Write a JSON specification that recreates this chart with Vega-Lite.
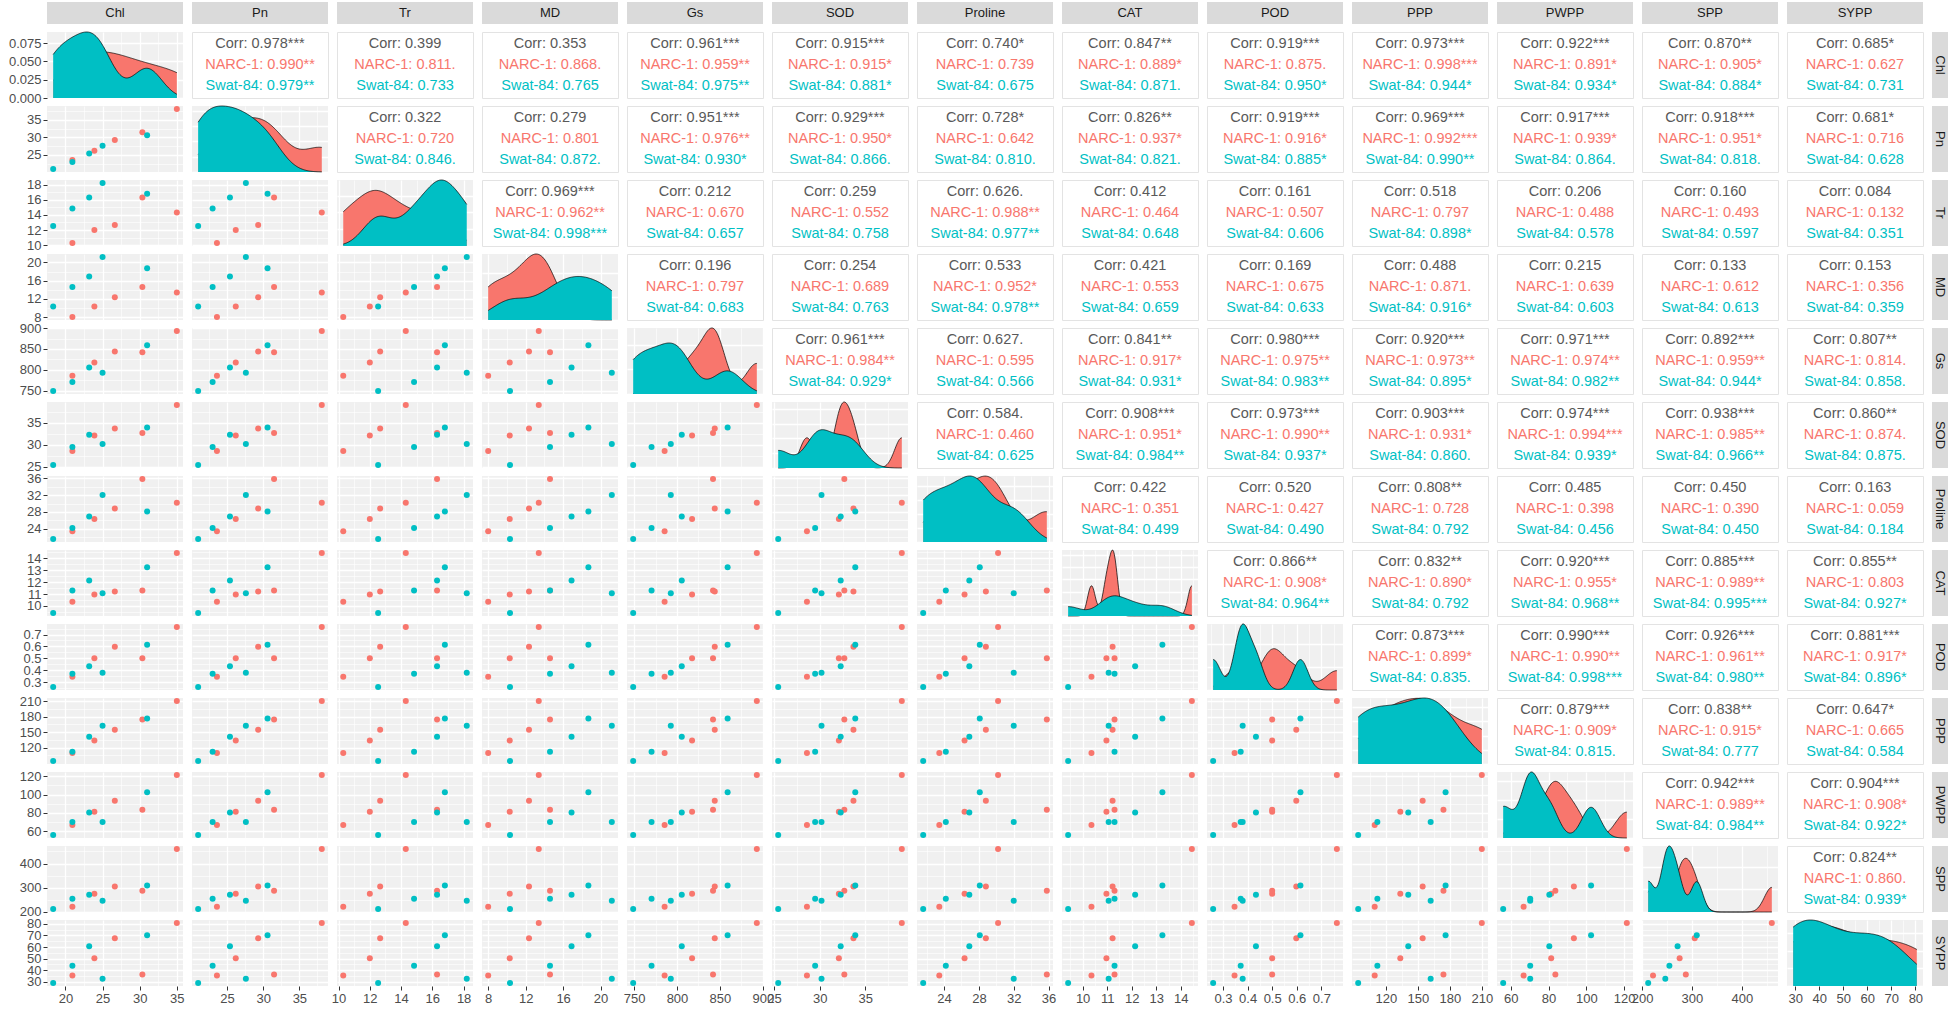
{"$schema":"https://vega.github.io/schema/vega-lite/v6.json",
"padding":{"left":8,"top":2,"right":0,"bottom":0},
"background":"white",
"data":{"values":[
{"g":"NARC-1","Chl":20.94,"Pn":23.6,"Tr":10.3,"MD":8.0,"Gs":785.6,"SOD":28.6,"Proline":23.45,"CAT":10.36,"POD":0.347,"PPP":109.5,"PWPP":66.8,"SPP":222,"SYPP":35.5},
{"g":"NARC-1","Chl":23.9,"Pn":26.2,"Tr":12.0,"MD":10.3,"Gs":817.6,"SOD":32.1,"Proline":26.35,"CAT":10.97,"POD":0.5,"PPP":133.5,"PWPP":81.4,"SPP":275.3,"SYPP":50.3},
{"g":"NARC-1","Chl":26.65,"Pn":29.3,"Tr":12.66,"MD":12.36,"Gs":844,"SOD":33.7,"Proline":28.8,"CAT":11.22,"POD":0.598,"PPP":154.5,"PWPP":93.4,"SPP":305.5,"SYPP":67.6},
{"g":"NARC-1","Chl":30.36,"Pn":31.5,"Tr":16.3,"MD":14.6,"Gs":842,"SOD":32.7,"Proline":35.8,"CAT":11.3,"POD":0.5,"PPP":174,"PWPP":83.6,"SPP":287.7,"SYPP":36.4},
{"g":"NARC-1","Chl":35.0,"Pn":38.1,"Tr":14.3,"MD":13.4,"Gs":893,"SOD":39.0,"Proline":30.2,"CAT":14.45,"POD":0.763,"PPP":210,"PWPP":121.4,"SPP":460,"SYPP":80.6},
{"g":"Swat-84","Chl":18.35,"Pn":21.0,"Tr":12.53,"MD":10.33,"Gs":749,"SOD":25.45,"Proline":21.6,"CAT":9.41,"POD":0.26,"PPP":94,"PWPP":56,"SPP":212.3,"SYPP":29.1},
{"g":"Swat-84","Chl":20.94,"Pn":23.0,"Tr":14.83,"MD":14.6,"Gs":770.4,"SOD":29.5,"Proline":24.2,"CAT":11.3,"POD":0.372,"PPP":112,"PWPP":70.3,"SPP":254.8,"SYPP":44.0},
{"g":"Swat-84","Chl":23.2,"Pn":25.4,"Tr":16.3,"MD":16.9,"Gs":805.6,"SOD":32.3,"Proline":26.9,"CAT":12.14,"POD":0.434,"PPP":141,"PWPP":80.4,"SPP":271.2,"SYPP":60.6},
{"g":"Swat-84","Chl":25.0,"Pn":27.6,"Tr":18.2,"MD":21.2,"Gs":792.8,"SOD":30.2,"Proline":32.0,"CAT":11.06,"POD":0.38,"PPP":162,"PWPP":70.3,"SPP":246.6,"SYPP":32.8},
{"g":"Swat-84","Chl":31.0,"Pn":30.6,"Tr":16.8,"MD":18.7,"Gs":859,"SOD":33.9,"Proline":28.1,"CAT":13.25,"POD":0.615,"PPP":176,"PWPP":102.5,"SPP":309.6,"SYPP":70.1}
]},
"columns":14,
"spacing":{"row":8,"column":9},
"bounds":"flush",
"align":"each",
"config":{
"font":"Liberation Sans",
"view":{"continuousWidth":136,"continuousHeight":66,"discreteWidth":136,"discreteHeight":66,"fill":"#F0F0F0","stroke":null},
"axis":{"labels":false,"ticks":false,"domain":false,"gridColor":"#FFFFFF","gridWidth":1.3,"labelFontSize":13,"labelColor":"#4D4D4D","tickColor":"#333333","tickSize":4,"labelPadding":2,"labelOverlap":false,"labelFlush":false},
"legend":{"disable":true},
"range":{"category":["#595959","#F8766D","#00BFC4"]},
"scale":{"pointPadding":0.57},
"circle":{"size":36,"opacity":1},
"text":{"fontSize":14.5,"color":"#1A1A1A"},
"line":{"color":"#000000","strokeWidth":0.7}
},
"concat":[
{"data":{"values":[{"v":"Chl"}]},"mark":{"type":"text","fontSize":13},"encoding":{"text":{"field":"v"}},"height":22,"view":{"fill":"#DADADA"}},
{"data":{"values":[{"v":"Pn"}]},"mark":{"type":"text","fontSize":13},"encoding":{"text":{"field":"v"}},"height":22,"view":{"fill":"#DADADA"}},
{"data":{"values":[{"v":"Tr"}]},"mark":{"type":"text","fontSize":13},"encoding":{"text":{"field":"v"}},"height":22,"view":{"fill":"#DADADA"}},
{"data":{"values":[{"v":"MD"}]},"mark":{"type":"text","fontSize":13},"encoding":{"text":{"field":"v"}},"height":22,"view":{"fill":"#DADADA"}},
{"data":{"values":[{"v":"Gs"}]},"mark":{"type":"text","fontSize":13},"encoding":{"text":{"field":"v"}},"height":22,"view":{"fill":"#DADADA"}},
{"data":{"values":[{"v":"SOD"}]},"mark":{"type":"text","fontSize":13},"encoding":{"text":{"field":"v"}},"height":22,"view":{"fill":"#DADADA"}},
{"data":{"values":[{"v":"Proline"}]},"mark":{"type":"text","fontSize":13},"encoding":{"text":{"field":"v"}},"height":22,"view":{"fill":"#DADADA"}},
{"data":{"values":[{"v":"CAT"}]},"mark":{"type":"text","fontSize":13},"encoding":{"text":{"field":"v"}},"height":22,"view":{"fill":"#DADADA"}},
{"data":{"values":[{"v":"POD"}]},"mark":{"type":"text","fontSize":13},"encoding":{"text":{"field":"v"}},"height":22,"view":{"fill":"#DADADA"}},
{"data":{"values":[{"v":"PPP"}]},"mark":{"type":"text","fontSize":13},"encoding":{"text":{"field":"v"}},"height":22,"view":{"fill":"#DADADA"}},
{"data":{"values":[{"v":"PWPP"}]},"mark":{"type":"text","fontSize":13},"encoding":{"text":{"field":"v"}},"height":22,"view":{"fill":"#DADADA"}},
{"data":{"values":[{"v":"SPP"}]},"mark":{"type":"text","fontSize":13},"encoding":{"text":{"field":"v"}},"height":22,"view":{"fill":"#DADADA"}},
{"data":{"values":[{"v":"SYPP"}]},"mark":{"type":"text","fontSize":13},"encoding":{"text":{"field":"v"}},"height":22,"view":{"fill":"#DADADA"}},
{"data":{"values":[{"v":""}]},"mark":"text","encoding":{"text":{"field":"v"}},"width":16,"height":22,"view":{"fill":"white"}},

{"layer":[{"transform":[{"filter":"datum.g=='NARC-1'"},{"density":"Chl","bandwidth":3.15,"extent":[18.35,35],"groupby":["g"],"steps":150}],"layer":[{"mark":"area","encoding":{"color":{"field":"g"}}},{"mark":"line"}]},{"transform":[{"filter":"datum.g=='Swat-84'"},{"density":"Chl","bandwidth":1.98,"extent":[18.35,35],"groupby":["g"],"steps":150}],"layer":[{"mark":"area","encoding":{"color":{"field":"g"}}},{"mark":"line"}]}],"encoding":{"x":{"field":"value","type":"quantitative","title":null,"scale":{"domain":[17.52,35.83]},"axis":{"values":[20,22.5,25,27.5,30,32.5,35],"gridWidth":{"condition":{"test":"datum.value%5==0","value":1.3},"value":0.6}}},"y":{"field":"density","type":"quantitative","title":null,"stack":null,"scale":{"nice":false},"axis":{"values":[0,0.025,0.05,0.075],"format":".3f","labels":true,"ticks":true}}}},
{"data":{"values":[{"g":"Corr","t":"Corr: 0.978***"},{"g":"NARC-1","t":"NARC-1: 0.990**"},{"g":"Swat-84","t":"Swat-84: 0.979**"}]},"mark":"text","encoding":{"y":{"field":"g","axis":null},"text":{"field":"t"},"color":{"field":"g"}},"view":{"fill":"white","stroke":"#E3E3E3"}},
{"data":{"values":[{"g":"Corr","t":"Corr: 0.399"},{"g":"NARC-1","t":"NARC-1: 0.811."},{"g":"Swat-84","t":"Swat-84: 0.733"}]},"mark":"text","encoding":{"y":{"field":"g","axis":null},"text":{"field":"t"},"color":{"field":"g"}},"view":{"fill":"white","stroke":"#E3E3E3"}},
{"data":{"values":[{"g":"Corr","t":"Corr: 0.353"},{"g":"NARC-1","t":"NARC-1: 0.868."},{"g":"Swat-84","t":"Swat-84: 0.765"}]},"mark":"text","encoding":{"y":{"field":"g","axis":null},"text":{"field":"t"},"color":{"field":"g"}},"view":{"fill":"white","stroke":"#E3E3E3"}},
{"data":{"values":[{"g":"Corr","t":"Corr: 0.961***"},{"g":"NARC-1","t":"NARC-1: 0.959**"},{"g":"Swat-84","t":"Swat-84: 0.975**"}]},"mark":"text","encoding":{"y":{"field":"g","axis":null},"text":{"field":"t"},"color":{"field":"g"}},"view":{"fill":"white","stroke":"#E3E3E3"}},
{"data":{"values":[{"g":"Corr","t":"Corr: 0.915***"},{"g":"NARC-1","t":"NARC-1: 0.915*"},{"g":"Swat-84","t":"Swat-84: 0.881*"}]},"mark":"text","encoding":{"y":{"field":"g","axis":null},"text":{"field":"t"},"color":{"field":"g"}},"view":{"fill":"white","stroke":"#E3E3E3"}},
{"data":{"values":[{"g":"Corr","t":"Corr: 0.740*"},{"g":"NARC-1","t":"NARC-1: 0.739"},{"g":"Swat-84","t":"Swat-84: 0.675"}]},"mark":"text","encoding":{"y":{"field":"g","axis":null},"text":{"field":"t"},"color":{"field":"g"}},"view":{"fill":"white","stroke":"#E3E3E3"}},
{"data":{"values":[{"g":"Corr","t":"Corr: 0.847**"},{"g":"NARC-1","t":"NARC-1: 0.889*"},{"g":"Swat-84","t":"Swat-84: 0.871."}]},"mark":"text","encoding":{"y":{"field":"g","axis":null},"text":{"field":"t"},"color":{"field":"g"}},"view":{"fill":"white","stroke":"#E3E3E3"}},
{"data":{"values":[{"g":"Corr","t":"Corr: 0.919***"},{"g":"NARC-1","t":"NARC-1: 0.875."},{"g":"Swat-84","t":"Swat-84: 0.950*"}]},"mark":"text","encoding":{"y":{"field":"g","axis":null},"text":{"field":"t"},"color":{"field":"g"}},"view":{"fill":"white","stroke":"#E3E3E3"}},
{"data":{"values":[{"g":"Corr","t":"Corr: 0.973***"},{"g":"NARC-1","t":"NARC-1: 0.998***"},{"g":"Swat-84","t":"Swat-84: 0.944*"}]},"mark":"text","encoding":{"y":{"field":"g","axis":null},"text":{"field":"t"},"color":{"field":"g"}},"view":{"fill":"white","stroke":"#E3E3E3"}},
{"data":{"values":[{"g":"Corr","t":"Corr: 0.922***"},{"g":"NARC-1","t":"NARC-1: 0.891*"},{"g":"Swat-84","t":"Swat-84: 0.934*"}]},"mark":"text","encoding":{"y":{"field":"g","axis":null},"text":{"field":"t"},"color":{"field":"g"}},"view":{"fill":"white","stroke":"#E3E3E3"}},
{"data":{"values":[{"g":"Corr","t":"Corr: 0.870**"},{"g":"NARC-1","t":"NARC-1: 0.905*"},{"g":"Swat-84","t":"Swat-84: 0.884*"}]},"mark":"text","encoding":{"y":{"field":"g","axis":null},"text":{"field":"t"},"color":{"field":"g"}},"view":{"fill":"white","stroke":"#E3E3E3"}},
{"data":{"values":[{"g":"Corr","t":"Corr: 0.685*"},{"g":"NARC-1","t":"NARC-1: 0.627"},{"g":"Swat-84","t":"Swat-84: 0.731"}]},"mark":"text","encoding":{"y":{"field":"g","axis":null},"text":{"field":"t"},"color":{"field":"g"}},"view":{"fill":"white","stroke":"#E3E3E3"}},
{"data":{"values":[{"v":"Chl"}]},"mark":{"type":"text","fontSize":13,"angle":90},"encoding":{"text":{"field":"v"}},"width":16,"view":{"fill":"#DADADA"}},

{"mark":"circle","encoding":{"x":{"field":"Chl","type":"quantitative","title":null,"scale":{"domain":[17.52,35.83]},"axis":{"values":[20,22.5,25,27.5,30,32.5,35],"gridWidth":{"condition":{"test":"datum.value%5==0","value":1.3},"value":0.6}}},"y":{"field":"Pn","type":"quantitative","title":null,"scale":{"domain":[20.15,38.96]},"axis":{"values":[22.5,25,27.5,30,32.5,35,37.5],"gridWidth":{"condition":{"test":"datum.value%5==0","value":1.3},"value":0.6},"labels":true,"ticks":true,"format":".6~g","labelOverlap":false,"labelFlush":false,"labelOpacity":{"condition":{"test":"datum.value%5==0","value":1},"value":0},"tickOpacity":{"condition":{"test":"datum.value%5==0","value":1},"value":0}}},"color":{"field":"g"}}},
{"layer":[{"transform":[{"filter":"datum.g=='NARC-1'"},{"density":"Pn","bandwidth":2.58,"extent":[21,38.1],"groupby":["g"],"steps":150}],"layer":[{"mark":"area","encoding":{"color":{"field":"g"}}},{"mark":"line"}]},{"transform":[{"filter":"datum.g=='Swat-84'"},{"density":"Pn","bandwidth":2.24,"extent":[21,38.1],"groupby":["g"],"steps":150}],"layer":[{"mark":"area","encoding":{"color":{"field":"g"}}},{"mark":"line"}]}],"encoding":{"x":{"field":"value","type":"quantitative","title":null,"scale":{"domain":[20.15,38.96]},"axis":{"values":[22.5,25,27.5,30,32.5,35,37.5],"gridWidth":{"condition":{"test":"datum.value%5==0","value":1.3},"value":0.6}}},"y":{"field":"density","type":"quantitative","title":null,"stack":null,"scale":{"nice":false},"axis":{"tickCount":4}}}},
{"data":{"values":[{"g":"Corr","t":"Corr: 0.322"},{"g":"NARC-1","t":"NARC-1: 0.720"},{"g":"Swat-84","t":"Swat-84: 0.846."}]},"mark":"text","encoding":{"y":{"field":"g","axis":null},"text":{"field":"t"},"color":{"field":"g"}},"view":{"fill":"white","stroke":"#E3E3E3"}},
{"data":{"values":[{"g":"Corr","t":"Corr: 0.279"},{"g":"NARC-1","t":"NARC-1: 0.801"},{"g":"Swat-84","t":"Swat-84: 0.872."}]},"mark":"text","encoding":{"y":{"field":"g","axis":null},"text":{"field":"t"},"color":{"field":"g"}},"view":{"fill":"white","stroke":"#E3E3E3"}},
{"data":{"values":[{"g":"Corr","t":"Corr: 0.951***"},{"g":"NARC-1","t":"NARC-1: 0.976**"},{"g":"Swat-84","t":"Swat-84: 0.930*"}]},"mark":"text","encoding":{"y":{"field":"g","axis":null},"text":{"field":"t"},"color":{"field":"g"}},"view":{"fill":"white","stroke":"#E3E3E3"}},
{"data":{"values":[{"g":"Corr","t":"Corr: 0.929***"},{"g":"NARC-1","t":"NARC-1: 0.950*"},{"g":"Swat-84","t":"Swat-84: 0.866."}]},"mark":"text","encoding":{"y":{"field":"g","axis":null},"text":{"field":"t"},"color":{"field":"g"}},"view":{"fill":"white","stroke":"#E3E3E3"}},
{"data":{"values":[{"g":"Corr","t":"Corr: 0.728*"},{"g":"NARC-1","t":"NARC-1: 0.642"},{"g":"Swat-84","t":"Swat-84: 0.810."}]},"mark":"text","encoding":{"y":{"field":"g","axis":null},"text":{"field":"t"},"color":{"field":"g"}},"view":{"fill":"white","stroke":"#E3E3E3"}},
{"data":{"values":[{"g":"Corr","t":"Corr: 0.826**"},{"g":"NARC-1","t":"NARC-1: 0.937*"},{"g":"Swat-84","t":"Swat-84: 0.821."}]},"mark":"text","encoding":{"y":{"field":"g","axis":null},"text":{"field":"t"},"color":{"field":"g"}},"view":{"fill":"white","stroke":"#E3E3E3"}},
{"data":{"values":[{"g":"Corr","t":"Corr: 0.919***"},{"g":"NARC-1","t":"NARC-1: 0.916*"},{"g":"Swat-84","t":"Swat-84: 0.885*"}]},"mark":"text","encoding":{"y":{"field":"g","axis":null},"text":{"field":"t"},"color":{"field":"g"}},"view":{"fill":"white","stroke":"#E3E3E3"}},
{"data":{"values":[{"g":"Corr","t":"Corr: 0.969***"},{"g":"NARC-1","t":"NARC-1: 0.992***"},{"g":"Swat-84","t":"Swat-84: 0.990**"}]},"mark":"text","encoding":{"y":{"field":"g","axis":null},"text":{"field":"t"},"color":{"field":"g"}},"view":{"fill":"white","stroke":"#E3E3E3"}},
{"data":{"values":[{"g":"Corr","t":"Corr: 0.917***"},{"g":"NARC-1","t":"NARC-1: 0.939*"},{"g":"Swat-84","t":"Swat-84: 0.864."}]},"mark":"text","encoding":{"y":{"field":"g","axis":null},"text":{"field":"t"},"color":{"field":"g"}},"view":{"fill":"white","stroke":"#E3E3E3"}},
{"data":{"values":[{"g":"Corr","t":"Corr: 0.918***"},{"g":"NARC-1","t":"NARC-1: 0.951*"},{"g":"Swat-84","t":"Swat-84: 0.818."}]},"mark":"text","encoding":{"y":{"field":"g","axis":null},"text":{"field":"t"},"color":{"field":"g"}},"view":{"fill":"white","stroke":"#E3E3E3"}},
{"data":{"values":[{"g":"Corr","t":"Corr: 0.681*"},{"g":"NARC-1","t":"NARC-1: 0.716"},{"g":"Swat-84","t":"Swat-84: 0.628"}]},"mark":"text","encoding":{"y":{"field":"g","axis":null},"text":{"field":"t"},"color":{"field":"g"}},"view":{"fill":"white","stroke":"#E3E3E3"}},
{"data":{"values":[{"v":"Pn"}]},"mark":{"type":"text","fontSize":13,"angle":90},"encoding":{"text":{"field":"v"}},"width":16,"view":{"fill":"#DADADA"}},

{"mark":"circle","encoding":{"x":{"field":"Chl","type":"quantitative","title":null,"scale":{"domain":[17.52,35.83]},"axis":{"values":[20,22.5,25,27.5,30,32.5,35],"gridWidth":{"condition":{"test":"datum.value%5==0","value":1.3},"value":0.6}}},"y":{"field":"Tr","type":"quantitative","title":null,"scale":{"domain":[9.9,18.6]},"axis":{"values":[10,11,12,13,14,15,16,17,18],"gridWidth":{"condition":{"test":"datum.value%2==0","value":1.3},"value":0.6},"labels":true,"ticks":true,"format":".6~g","labelOverlap":false,"labelFlush":false,"labelOpacity":{"condition":{"test":"datum.value%2==0","value":1},"value":0},"tickOpacity":{"condition":{"test":"datum.value%2==0","value":1},"value":0}}},"color":{"field":"g"}}},
{"mark":"circle","encoding":{"x":{"field":"Pn","type":"quantitative","title":null,"scale":{"domain":[20.15,38.96]},"axis":{"values":[22.5,25,27.5,30,32.5,35,37.5],"gridWidth":{"condition":{"test":"datum.value%5==0","value":1.3},"value":0.6}}},"y":{"field":"Tr","type":"quantitative","title":null,"scale":{"domain":[9.9,18.6]},"axis":{"values":[10,11,12,13,14,15,16,17,18],"gridWidth":{"condition":{"test":"datum.value%2==0","value":1.3},"value":0.6}}},"color":{"field":"g"}}},
{"layer":[{"transform":[{"filter":"datum.g=='NARC-1'"},{"density":"Tr","bandwidth":1.12,"extent":[10.3,18.2],"groupby":["g"],"steps":150}],"layer":[{"mark":"area","encoding":{"color":{"field":"g"}}},{"mark":"line"}]},{"transform":[{"filter":"datum.g=='Swat-84'"},{"density":"Tr","bandwidth":0.96,"extent":[10.3,18.2],"groupby":["g"],"steps":150}],"layer":[{"mark":"area","encoding":{"color":{"field":"g"}}},{"mark":"line"}]}],"encoding":{"x":{"field":"value","type":"quantitative","title":null,"scale":{"domain":[9.9,18.6]},"axis":{"values":[10,11,12,13,14,15,16,17,18],"gridWidth":{"condition":{"test":"datum.value%2==0","value":1.3},"value":0.6}}},"y":{"field":"density","type":"quantitative","title":null,"stack":null,"scale":{"nice":false},"axis":{"tickCount":4}}}},
{"data":{"values":[{"g":"Corr","t":"Corr: 0.969***"},{"g":"NARC-1","t":"NARC-1: 0.962**"},{"g":"Swat-84","t":"Swat-84: 0.998***"}]},"mark":"text","encoding":{"y":{"field":"g","axis":null},"text":{"field":"t"},"color":{"field":"g"}},"view":{"fill":"white","stroke":"#E3E3E3"}},
{"data":{"values":[{"g":"Corr","t":"Corr: 0.212"},{"g":"NARC-1","t":"NARC-1: 0.670"},{"g":"Swat-84","t":"Swat-84: 0.657"}]},"mark":"text","encoding":{"y":{"field":"g","axis":null},"text":{"field":"t"},"color":{"field":"g"}},"view":{"fill":"white","stroke":"#E3E3E3"}},
{"data":{"values":[{"g":"Corr","t":"Corr: 0.259"},{"g":"NARC-1","t":"NARC-1: 0.552"},{"g":"Swat-84","t":"Swat-84: 0.758"}]},"mark":"text","encoding":{"y":{"field":"g","axis":null},"text":{"field":"t"},"color":{"field":"g"}},"view":{"fill":"white","stroke":"#E3E3E3"}},
{"data":{"values":[{"g":"Corr","t":"Corr: 0.626."},{"g":"NARC-1","t":"NARC-1: 0.988**"},{"g":"Swat-84","t":"Swat-84: 0.977**"}]},"mark":"text","encoding":{"y":{"field":"g","axis":null},"text":{"field":"t"},"color":{"field":"g"}},"view":{"fill":"white","stroke":"#E3E3E3"}},
{"data":{"values":[{"g":"Corr","t":"Corr: 0.412"},{"g":"NARC-1","t":"NARC-1: 0.464"},{"g":"Swat-84","t":"Swat-84: 0.648"}]},"mark":"text","encoding":{"y":{"field":"g","axis":null},"text":{"field":"t"},"color":{"field":"g"}},"view":{"fill":"white","stroke":"#E3E3E3"}},
{"data":{"values":[{"g":"Corr","t":"Corr: 0.161"},{"g":"NARC-1","t":"NARC-1: 0.507"},{"g":"Swat-84","t":"Swat-84: 0.606"}]},"mark":"text","encoding":{"y":{"field":"g","axis":null},"text":{"field":"t"},"color":{"field":"g"}},"view":{"fill":"white","stroke":"#E3E3E3"}},
{"data":{"values":[{"g":"Corr","t":"Corr: 0.518"},{"g":"NARC-1","t":"NARC-1: 0.797"},{"g":"Swat-84","t":"Swat-84: 0.898*"}]},"mark":"text","encoding":{"y":{"field":"g","axis":null},"text":{"field":"t"},"color":{"field":"g"}},"view":{"fill":"white","stroke":"#E3E3E3"}},
{"data":{"values":[{"g":"Corr","t":"Corr: 0.206"},{"g":"NARC-1","t":"NARC-1: 0.488"},{"g":"Swat-84","t":"Swat-84: 0.578"}]},"mark":"text","encoding":{"y":{"field":"g","axis":null},"text":{"field":"t"},"color":{"field":"g"}},"view":{"fill":"white","stroke":"#E3E3E3"}},
{"data":{"values":[{"g":"Corr","t":"Corr: 0.160"},{"g":"NARC-1","t":"NARC-1: 0.493"},{"g":"Swat-84","t":"Swat-84: 0.597"}]},"mark":"text","encoding":{"y":{"field":"g","axis":null},"text":{"field":"t"},"color":{"field":"g"}},"view":{"fill":"white","stroke":"#E3E3E3"}},
{"data":{"values":[{"g":"Corr","t":"Corr: 0.084"},{"g":"NARC-1","t":"NARC-1: 0.132"},{"g":"Swat-84","t":"Swat-84: 0.351"}]},"mark":"text","encoding":{"y":{"field":"g","axis":null},"text":{"field":"t"},"color":{"field":"g"}},"view":{"fill":"white","stroke":"#E3E3E3"}},
{"data":{"values":[{"v":"Tr"}]},"mark":{"type":"text","fontSize":13,"angle":90},"encoding":{"text":{"field":"v"}},"width":16,"view":{"fill":"#DADADA"}},

{"mark":"circle","encoding":{"x":{"field":"Chl","type":"quantitative","title":null,"scale":{"domain":[17.52,35.83]},"axis":{"values":[20,22.5,25,27.5,30,32.5,35],"gridWidth":{"condition":{"test":"datum.value%5==0","value":1.3},"value":0.6}}},"y":{"field":"MD","type":"quantitative","title":null,"scale":{"domain":[7.34,21.86]},"axis":{"values":[8,10,12,14,16,18,20],"gridWidth":{"condition":{"test":"datum.value%4==0","value":1.3},"value":0.6},"labels":true,"ticks":true,"format":".6~g","labelOverlap":false,"labelFlush":false,"labelOpacity":{"condition":{"test":"datum.value%4==0","value":1},"value":0},"tickOpacity":{"condition":{"test":"datum.value%4==0","value":1},"value":0}}},"color":{"field":"g"}}},
{"mark":"circle","encoding":{"x":{"field":"Pn","type":"quantitative","title":null,"scale":{"domain":[20.15,38.96]},"axis":{"values":[22.5,25,27.5,30,32.5,35,37.5],"gridWidth":{"condition":{"test":"datum.value%5==0","value":1.3},"value":0.6}}},"y":{"field":"MD","type":"quantitative","title":null,"scale":{"domain":[7.34,21.86]},"axis":{"values":[8,10,12,14,16,18,20],"gridWidth":{"condition":{"test":"datum.value%4==0","value":1.3},"value":0.6}}},"color":{"field":"g"}}},
{"mark":"circle","encoding":{"x":{"field":"Tr","type":"quantitative","title":null,"scale":{"domain":[9.9,18.6]},"axis":{"values":[10,11,12,13,14,15,16,17,18],"gridWidth":{"condition":{"test":"datum.value%2==0","value":1.3},"value":0.6}}},"y":{"field":"MD","type":"quantitative","title":null,"scale":{"domain":[7.34,21.86]},"axis":{"values":[8,10,12,14,16,18,20],"gridWidth":{"condition":{"test":"datum.value%4==0","value":1.3},"value":0.6}}},"color":{"field":"g"}}},
{"layer":[{"transform":[{"filter":"datum.g=='NARC-1'"},{"density":"MD","bandwidth":1.51,"extent":[8,21.2],"groupby":["g"],"steps":150}],"layer":[{"mark":"area","encoding":{"color":{"field":"g"}}},{"mark":"line"}]},{"transform":[{"filter":"datum.g=='Swat-84'"},{"density":"MD","bandwidth":2.0,"extent":[8,21.2],"groupby":["g"],"steps":150}],"layer":[{"mark":"area","encoding":{"color":{"field":"g"}}},{"mark":"line"}]}],"encoding":{"x":{"field":"value","type":"quantitative","title":null,"scale":{"domain":[7.34,21.86]},"axis":{"values":[8,10,12,14,16,18,20],"gridWidth":{"condition":{"test":"datum.value%4==0","value":1.3},"value":0.6}}},"y":{"field":"density","type":"quantitative","title":null,"stack":null,"scale":{"nice":false},"axis":{"tickCount":4}}}},
{"data":{"values":[{"g":"Corr","t":"Corr: 0.196"},{"g":"NARC-1","t":"NARC-1: 0.797"},{"g":"Swat-84","t":"Swat-84: 0.683"}]},"mark":"text","encoding":{"y":{"field":"g","axis":null},"text":{"field":"t"},"color":{"field":"g"}},"view":{"fill":"white","stroke":"#E3E3E3"}},
{"data":{"values":[{"g":"Corr","t":"Corr: 0.254"},{"g":"NARC-1","t":"NARC-1: 0.689"},{"g":"Swat-84","t":"Swat-84: 0.763"}]},"mark":"text","encoding":{"y":{"field":"g","axis":null},"text":{"field":"t"},"color":{"field":"g"}},"view":{"fill":"white","stroke":"#E3E3E3"}},
{"data":{"values":[{"g":"Corr","t":"Corr: 0.533"},{"g":"NARC-1","t":"NARC-1: 0.952*"},{"g":"Swat-84","t":"Swat-84: 0.978**"}]},"mark":"text","encoding":{"y":{"field":"g","axis":null},"text":{"field":"t"},"color":{"field":"g"}},"view":{"fill":"white","stroke":"#E3E3E3"}},
{"data":{"values":[{"g":"Corr","t":"Corr: 0.421"},{"g":"NARC-1","t":"NARC-1: 0.553"},{"g":"Swat-84","t":"Swat-84: 0.659"}]},"mark":"text","encoding":{"y":{"field":"g","axis":null},"text":{"field":"t"},"color":{"field":"g"}},"view":{"fill":"white","stroke":"#E3E3E3"}},
{"data":{"values":[{"g":"Corr","t":"Corr: 0.169"},{"g":"NARC-1","t":"NARC-1: 0.675"},{"g":"Swat-84","t":"Swat-84: 0.633"}]},"mark":"text","encoding":{"y":{"field":"g","axis":null},"text":{"field":"t"},"color":{"field":"g"}},"view":{"fill":"white","stroke":"#E3E3E3"}},
{"data":{"values":[{"g":"Corr","t":"Corr: 0.488"},{"g":"NARC-1","t":"NARC-1: 0.871."},{"g":"Swat-84","t":"Swat-84: 0.916*"}]},"mark":"text","encoding":{"y":{"field":"g","axis":null},"text":{"field":"t"},"color":{"field":"g"}},"view":{"fill":"white","stroke":"#E3E3E3"}},
{"data":{"values":[{"g":"Corr","t":"Corr: 0.215"},{"g":"NARC-1","t":"NARC-1: 0.639"},{"g":"Swat-84","t":"Swat-84: 0.603"}]},"mark":"text","encoding":{"y":{"field":"g","axis":null},"text":{"field":"t"},"color":{"field":"g"}},"view":{"fill":"white","stroke":"#E3E3E3"}},
{"data":{"values":[{"g":"Corr","t":"Corr: 0.133"},{"g":"NARC-1","t":"NARC-1: 0.612"},{"g":"Swat-84","t":"Swat-84: 0.613"}]},"mark":"text","encoding":{"y":{"field":"g","axis":null},"text":{"field":"t"},"color":{"field":"g"}},"view":{"fill":"white","stroke":"#E3E3E3"}},
{"data":{"values":[{"g":"Corr","t":"Corr: 0.153"},{"g":"NARC-1","t":"NARC-1: 0.356"},{"g":"Swat-84","t":"Swat-84: 0.359"}]},"mark":"text","encoding":{"y":{"field":"g","axis":null},"text":{"field":"t"},"color":{"field":"g"}},"view":{"fill":"white","stroke":"#E3E3E3"}},
{"data":{"values":[{"v":"MD"}]},"mark":{"type":"text","fontSize":13,"angle":90},"encoding":{"text":{"field":"v"}},"width":16,"view":{"fill":"#DADADA"}},

{"mark":"circle","encoding":{"x":{"field":"Chl","type":"quantitative","title":null,"scale":{"domain":[17.52,35.83]},"axis":{"values":[20,22.5,25,27.5,30,32.5,35],"gridWidth":{"condition":{"test":"datum.value%5==0","value":1.3},"value":0.6}}},"y":{"field":"Gs","type":"quantitative","title":null,"scale":{"domain":[741.8,900.2]},"axis":{"values":[750,775,800,825,850,875,900],"gridWidth":{"condition":{"test":"datum.value%50==0","value":1.3},"value":0.6},"labels":true,"ticks":true,"format":".6~g","labelOverlap":false,"labelFlush":false,"labelOpacity":{"condition":{"test":"datum.value%50==0","value":1},"value":0},"tickOpacity":{"condition":{"test":"datum.value%50==0","value":1},"value":0}}},"color":{"field":"g"}}},
{"mark":"circle","encoding":{"x":{"field":"Pn","type":"quantitative","title":null,"scale":{"domain":[20.15,38.96]},"axis":{"values":[22.5,25,27.5,30,32.5,35,37.5],"gridWidth":{"condition":{"test":"datum.value%5==0","value":1.3},"value":0.6}}},"y":{"field":"Gs","type":"quantitative","title":null,"scale":{"domain":[741.8,900.2]},"axis":{"values":[750,775,800,825,850,875,900],"gridWidth":{"condition":{"test":"datum.value%50==0","value":1.3},"value":0.6}}},"color":{"field":"g"}}},
{"mark":"circle","encoding":{"x":{"field":"Tr","type":"quantitative","title":null,"scale":{"domain":[9.9,18.6]},"axis":{"values":[10,11,12,13,14,15,16,17,18],"gridWidth":{"condition":{"test":"datum.value%2==0","value":1.3},"value":0.6}}},"y":{"field":"Gs","type":"quantitative","title":null,"scale":{"domain":[741.8,900.2]},"axis":{"values":[750,775,800,825,850,875,900],"gridWidth":{"condition":{"test":"datum.value%50==0","value":1.3},"value":0.6}}},"color":{"field":"g"}}},
{"mark":"circle","encoding":{"x":{"field":"MD","type":"quantitative","title":null,"scale":{"domain":[7.34,21.86]},"axis":{"values":[8,10,12,14,16,18,20],"gridWidth":{"condition":{"test":"datum.value%4==0","value":1.3},"value":0.6}}},"y":{"field":"Gs","type":"quantitative","title":null,"scale":{"domain":[741.8,900.2]},"axis":{"values":[750,775,800,825,850,875,900],"gridWidth":{"condition":{"test":"datum.value%50==0","value":1.3},"value":0.6}}},"color":{"field":"g"}}},
{"layer":[{"transform":[{"filter":"datum.g=='NARC-1'"},{"density":"Gs","bandwidth":12.85,"extent":[749,893],"groupby":["g"],"steps":150}],"layer":[{"mark":"area","encoding":{"color":{"field":"g"}}},{"mark":"line"}]},{"transform":[{"filter":"datum.g=='Swat-84'"},{"density":"Gs","bandwidth":17.1,"extent":[749,893],"groupby":["g"],"steps":150}],"layer":[{"mark":"area","encoding":{"color":{"field":"g"}}},{"mark":"line"}]}],"encoding":{"x":{"field":"value","type":"quantitative","title":null,"scale":{"domain":[741.8,900.2]},"axis":{"values":[750,775,800,825,850,875,900],"gridWidth":{"condition":{"test":"datum.value%50==0","value":1.3},"value":0.6}}},"y":{"field":"density","type":"quantitative","title":null,"stack":null,"scale":{"nice":false},"axis":{"tickCount":4}}}},
{"data":{"values":[{"g":"Corr","t":"Corr: 0.961***"},{"g":"NARC-1","t":"NARC-1: 0.984**"},{"g":"Swat-84","t":"Swat-84: 0.929*"}]},"mark":"text","encoding":{"y":{"field":"g","axis":null},"text":{"field":"t"},"color":{"field":"g"}},"view":{"fill":"white","stroke":"#E3E3E3"}},
{"data":{"values":[{"g":"Corr","t":"Corr: 0.627."},{"g":"NARC-1","t":"NARC-1: 0.595"},{"g":"Swat-84","t":"Swat-84: 0.566"}]},"mark":"text","encoding":{"y":{"field":"g","axis":null},"text":{"field":"t"},"color":{"field":"g"}},"view":{"fill":"white","stroke":"#E3E3E3"}},
{"data":{"values":[{"g":"Corr","t":"Corr: 0.841**"},{"g":"NARC-1","t":"NARC-1: 0.917*"},{"g":"Swat-84","t":"Swat-84: 0.931*"}]},"mark":"text","encoding":{"y":{"field":"g","axis":null},"text":{"field":"t"},"color":{"field":"g"}},"view":{"fill":"white","stroke":"#E3E3E3"}},
{"data":{"values":[{"g":"Corr","t":"Corr: 0.980***"},{"g":"NARC-1","t":"NARC-1: 0.975**"},{"g":"Swat-84","t":"Swat-84: 0.983**"}]},"mark":"text","encoding":{"y":{"field":"g","axis":null},"text":{"field":"t"},"color":{"field":"g"}},"view":{"fill":"white","stroke":"#E3E3E3"}},
{"data":{"values":[{"g":"Corr","t":"Corr: 0.920***"},{"g":"NARC-1","t":"NARC-1: 0.973**"},{"g":"Swat-84","t":"Swat-84: 0.895*"}]},"mark":"text","encoding":{"y":{"field":"g","axis":null},"text":{"field":"t"},"color":{"field":"g"}},"view":{"fill":"white","stroke":"#E3E3E3"}},
{"data":{"values":[{"g":"Corr","t":"Corr: 0.971***"},{"g":"NARC-1","t":"NARC-1: 0.974**"},{"g":"Swat-84","t":"Swat-84: 0.982**"}]},"mark":"text","encoding":{"y":{"field":"g","axis":null},"text":{"field":"t"},"color":{"field":"g"}},"view":{"fill":"white","stroke":"#E3E3E3"}},
{"data":{"values":[{"g":"Corr","t":"Corr: 0.892***"},{"g":"NARC-1","t":"NARC-1: 0.959**"},{"g":"Swat-84","t":"Swat-84: 0.944*"}]},"mark":"text","encoding":{"y":{"field":"g","axis":null},"text":{"field":"t"},"color":{"field":"g"}},"view":{"fill":"white","stroke":"#E3E3E3"}},
{"data":{"values":[{"g":"Corr","t":"Corr: 0.807**"},{"g":"NARC-1","t":"NARC-1: 0.814."},{"g":"Swat-84","t":"Swat-84: 0.858."}]},"mark":"text","encoding":{"y":{"field":"g","axis":null},"text":{"field":"t"},"color":{"field":"g"}},"view":{"fill":"white","stroke":"#E3E3E3"}},
{"data":{"values":[{"v":"Gs"}]},"mark":{"type":"text","fontSize":13,"angle":90},"encoding":{"text":{"field":"v"}},"width":16,"view":{"fill":"#DADADA"}},

{"mark":"circle","encoding":{"x":{"field":"Chl","type":"quantitative","title":null,"scale":{"domain":[17.52,35.83]},"axis":{"values":[20,22.5,25,27.5,30,32.5,35],"gridWidth":{"condition":{"test":"datum.value%5==0","value":1.3},"value":0.6}}},"y":{"field":"SOD","type":"quantitative","title":null,"scale":{"domain":[24.77,39.68]},"axis":{"values":[25,27.5,30,32.5,35,37.5],"gridWidth":{"condition":{"test":"datum.value%5==0","value":1.3},"value":0.6},"labels":true,"ticks":true,"format":".6~g","labelOverlap":false,"labelFlush":false,"labelOpacity":{"condition":{"test":"datum.value%5==0","value":1},"value":0},"tickOpacity":{"condition":{"test":"datum.value%5==0","value":1},"value":0}}},"color":{"field":"g"}}},
{"mark":"circle","encoding":{"x":{"field":"Pn","type":"quantitative","title":null,"scale":{"domain":[20.15,38.96]},"axis":{"values":[22.5,25,27.5,30,32.5,35,37.5],"gridWidth":{"condition":{"test":"datum.value%5==0","value":1.3},"value":0.6}}},"y":{"field":"SOD","type":"quantitative","title":null,"scale":{"domain":[24.77,39.68]},"axis":{"values":[25,27.5,30,32.5,35,37.5],"gridWidth":{"condition":{"test":"datum.value%5==0","value":1.3},"value":0.6}}},"color":{"field":"g"}}},
{"mark":"circle","encoding":{"x":{"field":"Tr","type":"quantitative","title":null,"scale":{"domain":[9.9,18.6]},"axis":{"values":[10,11,12,13,14,15,16,17,18],"gridWidth":{"condition":{"test":"datum.value%2==0","value":1.3},"value":0.6}}},"y":{"field":"SOD","type":"quantitative","title":null,"scale":{"domain":[24.77,39.68]},"axis":{"values":[25,27.5,30,32.5,35,37.5],"gridWidth":{"condition":{"test":"datum.value%5==0","value":1.3},"value":0.6}}},"color":{"field":"g"}}},
{"mark":"circle","encoding":{"x":{"field":"MD","type":"quantitative","title":null,"scale":{"domain":[7.34,21.86]},"axis":{"values":[8,10,12,14,16,18,20],"gridWidth":{"condition":{"test":"datum.value%4==0","value":1.3},"value":0.6}}},"y":{"field":"SOD","type":"quantitative","title":null,"scale":{"domain":[24.77,39.68]},"axis":{"values":[25,27.5,30,32.5,35,37.5],"gridWidth":{"condition":{"test":"datum.value%5==0","value":1.3},"value":0.6}}},"color":{"field":"g"}}},
{"mark":"circle","encoding":{"x":{"field":"Gs","type":"quantitative","title":null,"scale":{"domain":[741.8,900.2]},"axis":{"values":[750,775,800,825,850,875,900],"gridWidth":{"condition":{"test":"datum.value%50==0","value":1.3},"value":0.6}}},"y":{"field":"SOD","type":"quantitative","title":null,"scale":{"domain":[24.77,39.68]},"axis":{"values":[25,27.5,30,32.5,35,37.5],"gridWidth":{"condition":{"test":"datum.value%5==0","value":1.3},"value":0.6}}},"color":{"field":"g"}}},
{"layer":[{"transform":[{"filter":"datum.g=='NARC-1'"},{"density":"SOD","bandwidth":0.78,"extent":[25.45,39],"groupby":["g"],"steps":150}],"layer":[{"mark":"area","encoding":{"color":{"field":"g"}}},{"mark":"line"}]},{"transform":[{"filter":"datum.g=='Swat-84'"},{"density":"SOD","bandwidth":1.36,"extent":[25.45,39],"groupby":["g"],"steps":150}],"layer":[{"mark":"area","encoding":{"color":{"field":"g"}}},{"mark":"line"}]}],"encoding":{"x":{"field":"value","type":"quantitative","title":null,"scale":{"domain":[24.77,39.68]},"axis":{"values":[25,27.5,30,32.5,35,37.5],"gridWidth":{"condition":{"test":"datum.value%5==0","value":1.3},"value":0.6}}},"y":{"field":"density","type":"quantitative","title":null,"stack":null,"scale":{"nice":false},"axis":{"tickCount":4}}}},
{"data":{"values":[{"g":"Corr","t":"Corr: 0.584."},{"g":"NARC-1","t":"NARC-1: 0.460"},{"g":"Swat-84","t":"Swat-84: 0.625"}]},"mark":"text","encoding":{"y":{"field":"g","axis":null},"text":{"field":"t"},"color":{"field":"g"}},"view":{"fill":"white","stroke":"#E3E3E3"}},
{"data":{"values":[{"g":"Corr","t":"Corr: 0.908***"},{"g":"NARC-1","t":"NARC-1: 0.951*"},{"g":"Swat-84","t":"Swat-84: 0.984**"}]},"mark":"text","encoding":{"y":{"field":"g","axis":null},"text":{"field":"t"},"color":{"field":"g"}},"view":{"fill":"white","stroke":"#E3E3E3"}},
{"data":{"values":[{"g":"Corr","t":"Corr: 0.973***"},{"g":"NARC-1","t":"NARC-1: 0.990**"},{"g":"Swat-84","t":"Swat-84: 0.937*"}]},"mark":"text","encoding":{"y":{"field":"g","axis":null},"text":{"field":"t"},"color":{"field":"g"}},"view":{"fill":"white","stroke":"#E3E3E3"}},
{"data":{"values":[{"g":"Corr","t":"Corr: 0.903***"},{"g":"NARC-1","t":"NARC-1: 0.931*"},{"g":"Swat-84","t":"Swat-84: 0.860."}]},"mark":"text","encoding":{"y":{"field":"g","axis":null},"text":{"field":"t"},"color":{"field":"g"}},"view":{"fill":"white","stroke":"#E3E3E3"}},
{"data":{"values":[{"g":"Corr","t":"Corr: 0.974***"},{"g":"NARC-1","t":"NARC-1: 0.994***"},{"g":"Swat-84","t":"Swat-84: 0.939*"}]},"mark":"text","encoding":{"y":{"field":"g","axis":null},"text":{"field":"t"},"color":{"field":"g"}},"view":{"fill":"white","stroke":"#E3E3E3"}},
{"data":{"values":[{"g":"Corr","t":"Corr: 0.938***"},{"g":"NARC-1","t":"NARC-1: 0.985**"},{"g":"Swat-84","t":"Swat-84: 0.966**"}]},"mark":"text","encoding":{"y":{"field":"g","axis":null},"text":{"field":"t"},"color":{"field":"g"}},"view":{"fill":"white","stroke":"#E3E3E3"}},
{"data":{"values":[{"g":"Corr","t":"Corr: 0.860**"},{"g":"NARC-1","t":"NARC-1: 0.874."},{"g":"Swat-84","t":"Swat-84: 0.875."}]},"mark":"text","encoding":{"y":{"field":"g","axis":null},"text":{"field":"t"},"color":{"field":"g"}},"view":{"fill":"white","stroke":"#E3E3E3"}},
{"data":{"values":[{"v":"SOD"}]},"mark":{"type":"text","fontSize":13,"angle":90},"encoding":{"text":{"field":"v"}},"width":16,"view":{"fill":"#DADADA"}},

{"mark":"circle","encoding":{"x":{"field":"Chl","type":"quantitative","title":null,"scale":{"domain":[17.52,35.83]},"axis":{"values":[20,22.5,25,27.5,30,32.5,35],"gridWidth":{"condition":{"test":"datum.value%5==0","value":1.3},"value":0.6}}},"y":{"field":"Proline","type":"quantitative","title":null,"scale":{"domain":[20.89,36.51]},"axis":{"values":[22,24,26,28,30,32,34,36],"gridWidth":{"condition":{"test":"datum.value%4==0","value":1.3},"value":0.6},"labels":true,"ticks":true,"format":".6~g","labelOverlap":false,"labelFlush":false,"labelOpacity":{"condition":{"test":"datum.value%4==0","value":1},"value":0},"tickOpacity":{"condition":{"test":"datum.value%4==0","value":1},"value":0}}},"color":{"field":"g"}}},
{"mark":"circle","encoding":{"x":{"field":"Pn","type":"quantitative","title":null,"scale":{"domain":[20.15,38.96]},"axis":{"values":[22.5,25,27.5,30,32.5,35,37.5],"gridWidth":{"condition":{"test":"datum.value%5==0","value":1.3},"value":0.6}}},"y":{"field":"Proline","type":"quantitative","title":null,"scale":{"domain":[20.89,36.51]},"axis":{"values":[22,24,26,28,30,32,34,36],"gridWidth":{"condition":{"test":"datum.value%4==0","value":1.3},"value":0.6}}},"color":{"field":"g"}}},
{"mark":"circle","encoding":{"x":{"field":"Tr","type":"quantitative","title":null,"scale":{"domain":[9.9,18.6]},"axis":{"values":[10,11,12,13,14,15,16,17,18],"gridWidth":{"condition":{"test":"datum.value%2==0","value":1.3},"value":0.6}}},"y":{"field":"Proline","type":"quantitative","title":null,"scale":{"domain":[20.89,36.51]},"axis":{"values":[22,24,26,28,30,32,34,36],"gridWidth":{"condition":{"test":"datum.value%4==0","value":1.3},"value":0.6}}},"color":{"field":"g"}}},
{"mark":"circle","encoding":{"x":{"field":"MD","type":"quantitative","title":null,"scale":{"domain":[7.34,21.86]},"axis":{"values":[8,10,12,14,16,18,20],"gridWidth":{"condition":{"test":"datum.value%4==0","value":1.3},"value":0.6}}},"y":{"field":"Proline","type":"quantitative","title":null,"scale":{"domain":[20.89,36.51]},"axis":{"values":[22,24,26,28,30,32,34,36],"gridWidth":{"condition":{"test":"datum.value%4==0","value":1.3},"value":0.6}}},"color":{"field":"g"}}},
{"mark":"circle","encoding":{"x":{"field":"Gs","type":"quantitative","title":null,"scale":{"domain":[741.8,900.2]},"axis":{"values":[750,775,800,825,850,875,900],"gridWidth":{"condition":{"test":"datum.value%50==0","value":1.3},"value":0.6}}},"y":{"field":"Proline","type":"quantitative","title":null,"scale":{"domain":[20.89,36.51]},"axis":{"values":[22,24,26,28,30,32,34,36],"gridWidth":{"condition":{"test":"datum.value%4==0","value":1.3},"value":0.6}}},"color":{"field":"g"}}},
{"mark":"circle","encoding":{"x":{"field":"SOD","type":"quantitative","title":null,"scale":{"domain":[24.77,39.68]},"axis":{"values":[25,27.5,30,32.5,35,37.5],"gridWidth":{"condition":{"test":"datum.value%5==0","value":1.3},"value":0.6}}},"y":{"field":"Proline","type":"quantitative","title":null,"scale":{"domain":[20.89,36.51]},"axis":{"values":[22,24,26,28,30,32,34,36],"gridWidth":{"condition":{"test":"datum.value%4==0","value":1.3},"value":0.6}}},"color":{"field":"g"}}},
{"layer":[{"transform":[{"filter":"datum.g=='NARC-1'"},{"density":"Proline","bandwidth":1.88,"extent":[21.6,35.8],"groupby":["g"],"steps":150}],"layer":[{"mark":"area","encoding":{"color":{"field":"g"}}},{"mark":"line"}]},{"transform":[{"filter":"datum.g=='Swat-84'"},{"density":"Proline","bandwidth":1.9,"extent":[21.6,35.8],"groupby":["g"],"steps":150}],"layer":[{"mark":"area","encoding":{"color":{"field":"g"}}},{"mark":"line"}]}],"encoding":{"x":{"field":"value","type":"quantitative","title":null,"scale":{"domain":[20.89,36.51]},"axis":{"values":[22,24,26,28,30,32,34,36],"gridWidth":{"condition":{"test":"datum.value%4==0","value":1.3},"value":0.6}}},"y":{"field":"density","type":"quantitative","title":null,"stack":null,"scale":{"nice":false},"axis":{"tickCount":4}}}},
{"data":{"values":[{"g":"Corr","t":"Corr: 0.422"},{"g":"NARC-1","t":"NARC-1: 0.351"},{"g":"Swat-84","t":"Swat-84: 0.499"}]},"mark":"text","encoding":{"y":{"field":"g","axis":null},"text":{"field":"t"},"color":{"field":"g"}},"view":{"fill":"white","stroke":"#E3E3E3"}},
{"data":{"values":[{"g":"Corr","t":"Corr: 0.520"},{"g":"NARC-1","t":"NARC-1: 0.427"},{"g":"Swat-84","t":"Swat-84: 0.490"}]},"mark":"text","encoding":{"y":{"field":"g","axis":null},"text":{"field":"t"},"color":{"field":"g"}},"view":{"fill":"white","stroke":"#E3E3E3"}},
{"data":{"values":[{"g":"Corr","t":"Corr: 0.808**"},{"g":"NARC-1","t":"NARC-1: 0.728"},{"g":"Swat-84","t":"Swat-84: 0.792"}]},"mark":"text","encoding":{"y":{"field":"g","axis":null},"text":{"field":"t"},"color":{"field":"g"}},"view":{"fill":"white","stroke":"#E3E3E3"}},
{"data":{"values":[{"g":"Corr","t":"Corr: 0.485"},{"g":"NARC-1","t":"NARC-1: 0.398"},{"g":"Swat-84","t":"Swat-84: 0.456"}]},"mark":"text","encoding":{"y":{"field":"g","axis":null},"text":{"field":"t"},"color":{"field":"g"}},"view":{"fill":"white","stroke":"#E3E3E3"}},
{"data":{"values":[{"g":"Corr","t":"Corr: 0.450"},{"g":"NARC-1","t":"NARC-1: 0.390"},{"g":"Swat-84","t":"Swat-84: 0.450"}]},"mark":"text","encoding":{"y":{"field":"g","axis":null},"text":{"field":"t"},"color":{"field":"g"}},"view":{"fill":"white","stroke":"#E3E3E3"}},
{"data":{"values":[{"g":"Corr","t":"Corr: 0.163"},{"g":"NARC-1","t":"NARC-1: 0.059"},{"g":"Swat-84","t":"Swat-84: 0.184"}]},"mark":"text","encoding":{"y":{"field":"g","axis":null},"text":{"field":"t"},"color":{"field":"g"}},"view":{"fill":"white","stroke":"#E3E3E3"}},
{"data":{"values":[{"v":"Proline"}]},"mark":{"type":"text","fontSize":13,"angle":90},"encoding":{"text":{"field":"v"}},"width":16,"view":{"fill":"#DADADA"}},

{"mark":"circle","encoding":{"x":{"field":"Chl","type":"quantitative","title":null,"scale":{"domain":[17.52,35.83]},"axis":{"values":[20,22.5,25,27.5,30,32.5,35],"gridWidth":{"condition":{"test":"datum.value%5==0","value":1.3},"value":0.6}}},"y":{"field":"CAT","type":"quantitative","title":null,"scale":{"domain":[9.16,14.7]},"axis":{"values":[9.5,10,10.5,11,11.5,12,12.5,13,13.5,14,14.5],"gridWidth":{"condition":{"test":"datum.value%1==0","value":1.3},"value":0.6},"labels":true,"ticks":true,"format":".6~g","labelOverlap":false,"labelFlush":false,"labelOpacity":{"condition":{"test":"datum.value%1==0","value":1},"value":0},"tickOpacity":{"condition":{"test":"datum.value%1==0","value":1},"value":0}}},"color":{"field":"g"}}},
{"mark":"circle","encoding":{"x":{"field":"Pn","type":"quantitative","title":null,"scale":{"domain":[20.15,38.96]},"axis":{"values":[22.5,25,27.5,30,32.5,35,37.5],"gridWidth":{"condition":{"test":"datum.value%5==0","value":1.3},"value":0.6}}},"y":{"field":"CAT","type":"quantitative","title":null,"scale":{"domain":[9.16,14.7]},"axis":{"values":[9.5,10,10.5,11,11.5,12,12.5,13,13.5,14,14.5],"gridWidth":{"condition":{"test":"datum.value%1==0","value":1.3},"value":0.6}}},"color":{"field":"g"}}},
{"mark":"circle","encoding":{"x":{"field":"Tr","type":"quantitative","title":null,"scale":{"domain":[9.9,18.6]},"axis":{"values":[10,11,12,13,14,15,16,17,18],"gridWidth":{"condition":{"test":"datum.value%2==0","value":1.3},"value":0.6}}},"y":{"field":"CAT","type":"quantitative","title":null,"scale":{"domain":[9.16,14.7]},"axis":{"values":[9.5,10,10.5,11,11.5,12,12.5,13,13.5,14,14.5],"gridWidth":{"condition":{"test":"datum.value%1==0","value":1.3},"value":0.6}}},"color":{"field":"g"}}},
{"mark":"circle","encoding":{"x":{"field":"MD","type":"quantitative","title":null,"scale":{"domain":[7.34,21.86]},"axis":{"values":[8,10,12,14,16,18,20],"gridWidth":{"condition":{"test":"datum.value%4==0","value":1.3},"value":0.6}}},"y":{"field":"CAT","type":"quantitative","title":null,"scale":{"domain":[9.16,14.7]},"axis":{"values":[9.5,10,10.5,11,11.5,12,12.5,13,13.5,14,14.5],"gridWidth":{"condition":{"test":"datum.value%1==0","value":1.3},"value":0.6}}},"color":{"field":"g"}}},
{"mark":"circle","encoding":{"x":{"field":"Gs","type":"quantitative","title":null,"scale":{"domain":[741.8,900.2]},"axis":{"values":[750,775,800,825,850,875,900],"gridWidth":{"condition":{"test":"datum.value%50==0","value":1.3},"value":0.6}}},"y":{"field":"CAT","type":"quantitative","title":null,"scale":{"domain":[9.16,14.7]},"axis":{"values":[9.5,10,10.5,11,11.5,12,12.5,13,13.5,14,14.5],"gridWidth":{"condition":{"test":"datum.value%1==0","value":1.3},"value":0.6}}},"color":{"field":"g"}}},
{"mark":"circle","encoding":{"x":{"field":"SOD","type":"quantitative","title":null,"scale":{"domain":[24.77,39.68]},"axis":{"values":[25,27.5,30,32.5,35,37.5],"gridWidth":{"condition":{"test":"datum.value%5==0","value":1.3},"value":0.6}}},"y":{"field":"CAT","type":"quantitative","title":null,"scale":{"domain":[9.16,14.7]},"axis":{"values":[9.5,10,10.5,11,11.5,12,12.5,13,13.5,14,14.5],"gridWidth":{"condition":{"test":"datum.value%1==0","value":1.3},"value":0.6}}},"color":{"field":"g"}}},
{"mark":"circle","encoding":{"x":{"field":"Proline","type":"quantitative","title":null,"scale":{"domain":[20.89,36.51]},"axis":{"values":[22,24,26,28,30,32,34,36],"gridWidth":{"condition":{"test":"datum.value%4==0","value":1.3},"value":0.6}}},"y":{"field":"CAT","type":"quantitative","title":null,"scale":{"domain":[9.16,14.7]},"axis":{"values":[9.5,10,10.5,11,11.5,12,12.5,13,13.5,14,14.5],"gridWidth":{"condition":{"test":"datum.value%1==0","value":1.3},"value":0.6}}},"color":{"field":"g"}}},
{"layer":[{"transform":[{"filter":"datum.g=='NARC-1'"},{"density":"CAT","bandwidth":0.161,"extent":[9.41,14.45],"groupby":["g"],"steps":150}],"layer":[{"mark":"area","encoding":{"color":{"field":"g"}}},{"mark":"line"}]},{"transform":[{"filter":"datum.g=='Swat-84'"},{"density":"CAT","bandwidth":0.526,"extent":[9.41,14.45],"groupby":["g"],"steps":150}],"layer":[{"mark":"area","encoding":{"color":{"field":"g"}}},{"mark":"line"}]}],"encoding":{"x":{"field":"value","type":"quantitative","title":null,"scale":{"domain":[9.16,14.7]},"axis":{"values":[9.5,10,10.5,11,11.5,12,12.5,13,13.5,14,14.5],"gridWidth":{"condition":{"test":"datum.value%1==0","value":1.3},"value":0.6}}},"y":{"field":"density","type":"quantitative","title":null,"stack":null,"scale":{"nice":false},"axis":{"tickCount":4}}}},
{"data":{"values":[{"g":"Corr","t":"Corr: 0.866**"},{"g":"NARC-1","t":"NARC-1: 0.908*"},{"g":"Swat-84","t":"Swat-84: 0.964**"}]},"mark":"text","encoding":{"y":{"field":"g","axis":null},"text":{"field":"t"},"color":{"field":"g"}},"view":{"fill":"white","stroke":"#E3E3E3"}},
{"data":{"values":[{"g":"Corr","t":"Corr: 0.832**"},{"g":"NARC-1","t":"NARC-1: 0.890*"},{"g":"Swat-84","t":"Swat-84: 0.792"}]},"mark":"text","encoding":{"y":{"field":"g","axis":null},"text":{"field":"t"},"color":{"field":"g"}},"view":{"fill":"white","stroke":"#E3E3E3"}},
{"data":{"values":[{"g":"Corr","t":"Corr: 0.920***"},{"g":"NARC-1","t":"NARC-1: 0.955*"},{"g":"Swat-84","t":"Swat-84: 0.968**"}]},"mark":"text","encoding":{"y":{"field":"g","axis":null},"text":{"field":"t"},"color":{"field":"g"}},"view":{"fill":"white","stroke":"#E3E3E3"}},
{"data":{"values":[{"g":"Corr","t":"Corr: 0.885***"},{"g":"NARC-1","t":"NARC-1: 0.989**"},{"g":"Swat-84","t":"Swat-84: 0.995***"}]},"mark":"text","encoding":{"y":{"field":"g","axis":null},"text":{"field":"t"},"color":{"field":"g"}},"view":{"fill":"white","stroke":"#E3E3E3"}},
{"data":{"values":[{"g":"Corr","t":"Corr: 0.855**"},{"g":"NARC-1","t":"NARC-1: 0.803"},{"g":"Swat-84","t":"Swat-84: 0.927*"}]},"mark":"text","encoding":{"y":{"field":"g","axis":null},"text":{"field":"t"},"color":{"field":"g"}},"view":{"fill":"white","stroke":"#E3E3E3"}},
{"data":{"values":[{"v":"CAT"}]},"mark":{"type":"text","fontSize":13,"angle":90},"encoding":{"text":{"field":"v"}},"width":16,"view":{"fill":"#DADADA"}},

{"mark":"circle","encoding":{"x":{"field":"Chl","type":"quantitative","title":null,"scale":{"domain":[17.52,35.83]},"axis":{"values":[20,22.5,25,27.5,30,32.5,35],"gridWidth":{"condition":{"test":"datum.value%5==0","value":1.3},"value":0.6}}},"y":{"field":"POD","type":"quantitative","title":null,"scale":{"domain":[0.235,0.788]},"axis":{"values":[0.25,0.3,0.35,0.4,0.45,0.5,0.55,0.6,0.65,0.7,0.75],"gridWidth":{"condition":{"test":"round(datum.value*100)%10==0","value":1.3},"value":0.6},"labels":true,"ticks":true,"format":".6~g","labelOverlap":false,"labelFlush":false,"labelOpacity":{"condition":{"test":"round(datum.value*100)%10==0","value":1},"value":0},"tickOpacity":{"condition":{"test":"round(datum.value*100)%10==0","value":1},"value":0}}},"color":{"field":"g"}}},
{"mark":"circle","encoding":{"x":{"field":"Pn","type":"quantitative","title":null,"scale":{"domain":[20.15,38.96]},"axis":{"values":[22.5,25,27.5,30,32.5,35,37.5],"gridWidth":{"condition":{"test":"datum.value%5==0","value":1.3},"value":0.6}}},"y":{"field":"POD","type":"quantitative","title":null,"scale":{"domain":[0.235,0.788]},"axis":{"values":[0.25,0.3,0.35,0.4,0.45,0.5,0.55,0.6,0.65,0.7,0.75],"gridWidth":{"condition":{"test":"round(datum.value*100)%10==0","value":1.3},"value":0.6}}},"color":{"field":"g"}}},
{"mark":"circle","encoding":{"x":{"field":"Tr","type":"quantitative","title":null,"scale":{"domain":[9.9,18.6]},"axis":{"values":[10,11,12,13,14,15,16,17,18],"gridWidth":{"condition":{"test":"datum.value%2==0","value":1.3},"value":0.6}}},"y":{"field":"POD","type":"quantitative","title":null,"scale":{"domain":[0.235,0.788]},"axis":{"values":[0.25,0.3,0.35,0.4,0.45,0.5,0.55,0.6,0.65,0.7,0.75],"gridWidth":{"condition":{"test":"round(datum.value*100)%10==0","value":1.3},"value":0.6}}},"color":{"field":"g"}}},
{"mark":"circle","encoding":{"x":{"field":"MD","type":"quantitative","title":null,"scale":{"domain":[7.34,21.86]},"axis":{"values":[8,10,12,14,16,18,20],"gridWidth":{"condition":{"test":"datum.value%4==0","value":1.3},"value":0.6}}},"y":{"field":"POD","type":"quantitative","title":null,"scale":{"domain":[0.235,0.788]},"axis":{"values":[0.25,0.3,0.35,0.4,0.45,0.5,0.55,0.6,0.65,0.7,0.75],"gridWidth":{"condition":{"test":"round(datum.value*100)%10==0","value":1.3},"value":0.6}}},"color":{"field":"g"}}},
{"mark":"circle","encoding":{"x":{"field":"Gs","type":"quantitative","title":null,"scale":{"domain":[741.8,900.2]},"axis":{"values":[750,775,800,825,850,875,900],"gridWidth":{"condition":{"test":"datum.value%50==0","value":1.3},"value":0.6}}},"y":{"field":"POD","type":"quantitative","title":null,"scale":{"domain":[0.235,0.788]},"axis":{"values":[0.25,0.3,0.35,0.4,0.45,0.5,0.55,0.6,0.65,0.7,0.75],"gridWidth":{"condition":{"test":"round(datum.value*100)%10==0","value":1.3},"value":0.6}}},"color":{"field":"g"}}},
{"mark":"circle","encoding":{"x":{"field":"SOD","type":"quantitative","title":null,"scale":{"domain":[24.77,39.68]},"axis":{"values":[25,27.5,30,32.5,35,37.5],"gridWidth":{"condition":{"test":"datum.value%5==0","value":1.3},"value":0.6}}},"y":{"field":"POD","type":"quantitative","title":null,"scale":{"domain":[0.235,0.788]},"axis":{"values":[0.25,0.3,0.35,0.4,0.45,0.5,0.55,0.6,0.65,0.7,0.75],"gridWidth":{"condition":{"test":"round(datum.value*100)%10==0","value":1.3},"value":0.6}}},"color":{"field":"g"}}},
{"mark":"circle","encoding":{"x":{"field":"Proline","type":"quantitative","title":null,"scale":{"domain":[20.89,36.51]},"axis":{"values":[22,24,26,28,30,32,34,36],"gridWidth":{"condition":{"test":"datum.value%4==0","value":1.3},"value":0.6}}},"y":{"field":"POD","type":"quantitative","title":null,"scale":{"domain":[0.235,0.788]},"axis":{"values":[0.25,0.3,0.35,0.4,0.45,0.5,0.55,0.6,0.65,0.7,0.75],"gridWidth":{"condition":{"test":"round(datum.value*100)%10==0","value":1.3},"value":0.6}}},"color":{"field":"g"}}},
{"mark":"circle","encoding":{"x":{"field":"CAT","type":"quantitative","title":null,"scale":{"domain":[9.16,14.7]},"axis":{"values":[9.5,10,10.5,11,11.5,12,12.5,13,13.5,14,14.5],"gridWidth":{"condition":{"test":"datum.value%1==0","value":1.3},"value":0.6}}},"y":{"field":"POD","type":"quantitative","title":null,"scale":{"domain":[0.235,0.788]},"axis":{"values":[0.25,0.3,0.35,0.4,0.45,0.5,0.55,0.6,0.65,0.7,0.75],"gridWidth":{"condition":{"test":"round(datum.value*100)%10==0","value":1.3},"value":0.6}}},"color":{"field":"g"}}},
{"layer":[{"transform":[{"filter":"datum.g=='NARC-1'"},{"density":"POD","bandwidth":0.0477,"extent":[0.26,0.763],"groupby":["g"],"steps":150}],"layer":[{"mark":"area","encoding":{"color":{"field":"g"}}},{"mark":"line"}]},{"transform":[{"filter":"datum.g=='Swat-84'"},{"density":"POD","bandwidth":0.0302,"extent":[0.26,0.763],"groupby":["g"],"steps":150}],"layer":[{"mark":"area","encoding":{"color":{"field":"g"}}},{"mark":"line"}]}],"encoding":{"x":{"field":"value","type":"quantitative","title":null,"scale":{"domain":[0.235,0.788]},"axis":{"values":[0.25,0.3,0.35,0.4,0.45,0.5,0.55,0.6,0.65,0.7,0.75],"gridWidth":{"condition":{"test":"round(datum.value*100)%10==0","value":1.3},"value":0.6}}},"y":{"field":"density","type":"quantitative","title":null,"stack":null,"scale":{"nice":false},"axis":{"tickCount":4}}}},
{"data":{"values":[{"g":"Corr","t":"Corr: 0.873***"},{"g":"NARC-1","t":"NARC-1: 0.899*"},{"g":"Swat-84","t":"Swat-84: 0.835."}]},"mark":"text","encoding":{"y":{"field":"g","axis":null},"text":{"field":"t"},"color":{"field":"g"}},"view":{"fill":"white","stroke":"#E3E3E3"}},
{"data":{"values":[{"g":"Corr","t":"Corr: 0.990***"},{"g":"NARC-1","t":"NARC-1: 0.990**"},{"g":"Swat-84","t":"Swat-84: 0.998***"}]},"mark":"text","encoding":{"y":{"field":"g","axis":null},"text":{"field":"t"},"color":{"field":"g"}},"view":{"fill":"white","stroke":"#E3E3E3"}},
{"data":{"values":[{"g":"Corr","t":"Corr: 0.926***"},{"g":"NARC-1","t":"NARC-1: 0.961**"},{"g":"Swat-84","t":"Swat-84: 0.980**"}]},"mark":"text","encoding":{"y":{"field":"g","axis":null},"text":{"field":"t"},"color":{"field":"g"}},"view":{"fill":"white","stroke":"#E3E3E3"}},
{"data":{"values":[{"g":"Corr","t":"Corr: 0.881***"},{"g":"NARC-1","t":"NARC-1: 0.917*"},{"g":"Swat-84","t":"Swat-84: 0.896*"}]},"mark":"text","encoding":{"y":{"field":"g","axis":null},"text":{"field":"t"},"color":{"field":"g"}},"view":{"fill":"white","stroke":"#E3E3E3"}},
{"data":{"values":[{"v":"POD"}]},"mark":{"type":"text","fontSize":13,"angle":90},"encoding":{"text":{"field":"v"}},"width":16,"view":{"fill":"#DADADA"}},

{"mark":"circle","encoding":{"x":{"field":"Chl","type":"quantitative","title":null,"scale":{"domain":[17.52,35.83]},"axis":{"values":[20,22.5,25,27.5,30,32.5,35],"gridWidth":{"condition":{"test":"datum.value%5==0","value":1.3},"value":0.6}}},"y":{"field":"PPP","type":"quantitative","title":null,"scale":{"domain":[88.2,215.8]},"axis":{"values":[105,120,135,150,165,180,195,210],"gridWidth":{"condition":{"test":"datum.value%30==0","value":1.3},"value":0.6},"labels":true,"ticks":true,"format":".6~g","labelOverlap":false,"labelFlush":false,"labelOpacity":{"condition":{"test":"datum.value%30==0","value":1},"value":0},"tickOpacity":{"condition":{"test":"datum.value%30==0","value":1},"value":0}}},"color":{"field":"g"}}},
{"mark":"circle","encoding":{"x":{"field":"Pn","type":"quantitative","title":null,"scale":{"domain":[20.15,38.96]},"axis":{"values":[22.5,25,27.5,30,32.5,35,37.5],"gridWidth":{"condition":{"test":"datum.value%5==0","value":1.3},"value":0.6}}},"y":{"field":"PPP","type":"quantitative","title":null,"scale":{"domain":[88.2,215.8]},"axis":{"values":[105,120,135,150,165,180,195,210],"gridWidth":{"condition":{"test":"datum.value%30==0","value":1.3},"value":0.6}}},"color":{"field":"g"}}},
{"mark":"circle","encoding":{"x":{"field":"Tr","type":"quantitative","title":null,"scale":{"domain":[9.9,18.6]},"axis":{"values":[10,11,12,13,14,15,16,17,18],"gridWidth":{"condition":{"test":"datum.value%2==0","value":1.3},"value":0.6}}},"y":{"field":"PPP","type":"quantitative","title":null,"scale":{"domain":[88.2,215.8]},"axis":{"values":[105,120,135,150,165,180,195,210],"gridWidth":{"condition":{"test":"datum.value%30==0","value":1.3},"value":0.6}}},"color":{"field":"g"}}},
{"mark":"circle","encoding":{"x":{"field":"MD","type":"quantitative","title":null,"scale":{"domain":[7.34,21.86]},"axis":{"values":[8,10,12,14,16,18,20],"gridWidth":{"condition":{"test":"datum.value%4==0","value":1.3},"value":0.6}}},"y":{"field":"PPP","type":"quantitative","title":null,"scale":{"domain":[88.2,215.8]},"axis":{"values":[105,120,135,150,165,180,195,210],"gridWidth":{"condition":{"test":"datum.value%30==0","value":1.3},"value":0.6}}},"color":{"field":"g"}}},
{"mark":"circle","encoding":{"x":{"field":"Gs","type":"quantitative","title":null,"scale":{"domain":[741.8,900.2]},"axis":{"values":[750,775,800,825,850,875,900],"gridWidth":{"condition":{"test":"datum.value%50==0","value":1.3},"value":0.6}}},"y":{"field":"PPP","type":"quantitative","title":null,"scale":{"domain":[88.2,215.8]},"axis":{"values":[105,120,135,150,165,180,195,210],"gridWidth":{"condition":{"test":"datum.value%30==0","value":1.3},"value":0.6}}},"color":{"field":"g"}}},
{"mark":"circle","encoding":{"x":{"field":"SOD","type":"quantitative","title":null,"scale":{"domain":[24.77,39.68]},"axis":{"values":[25,27.5,30,32.5,35,37.5],"gridWidth":{"condition":{"test":"datum.value%5==0","value":1.3},"value":0.6}}},"y":{"field":"PPP","type":"quantitative","title":null,"scale":{"domain":[88.2,215.8]},"axis":{"values":[105,120,135,150,165,180,195,210],"gridWidth":{"condition":{"test":"datum.value%30==0","value":1.3},"value":0.6}}},"color":{"field":"g"}}},
{"mark":"circle","encoding":{"x":{"field":"Proline","type":"quantitative","title":null,"scale":{"domain":[20.89,36.51]},"axis":{"values":[22,24,26,28,30,32,34,36],"gridWidth":{"condition":{"test":"datum.value%4==0","value":1.3},"value":0.6}}},"y":{"field":"PPP","type":"quantitative","title":null,"scale":{"domain":[88.2,215.8]},"axis":{"values":[105,120,135,150,165,180,195,210],"gridWidth":{"condition":{"test":"datum.value%30==0","value":1.3},"value":0.6}}},"color":{"field":"g"}}},
{"mark":"circle","encoding":{"x":{"field":"CAT","type":"quantitative","title":null,"scale":{"domain":[9.16,14.7]},"axis":{"values":[9.5,10,10.5,11,11.5,12,12.5,13,13.5,14,14.5],"gridWidth":{"condition":{"test":"datum.value%1==0","value":1.3},"value":0.6}}},"y":{"field":"PPP","type":"quantitative","title":null,"scale":{"domain":[88.2,215.8]},"axis":{"values":[105,120,135,150,165,180,195,210],"gridWidth":{"condition":{"test":"datum.value%30==0","value":1.3},"value":0.6}}},"color":{"field":"g"}}},
{"mark":"circle","encoding":{"x":{"field":"POD","type":"quantitative","title":null,"scale":{"domain":[0.235,0.788]},"axis":{"values":[0.25,0.3,0.35,0.4,0.45,0.5,0.55,0.6,0.65,0.7,0.75],"gridWidth":{"condition":{"test":"round(datum.value*100)%10==0","value":1.3},"value":0.6}}},"y":{"field":"PPP","type":"quantitative","title":null,"scale":{"domain":[88.2,215.8]},"axis":{"values":[105,120,135,150,165,180,195,210],"gridWidth":{"condition":{"test":"datum.value%30==0","value":1.3},"value":0.6}}},"color":{"field":"g"}}},
{"layer":[{"transform":[{"filter":"datum.g=='NARC-1'"},{"density":"PPP","bandwidth":19.7,"extent":[94,210],"groupby":["g"],"steps":150}],"layer":[{"mark":"area","encoding":{"color":{"field":"g"}}},{"mark":"line"}]},{"transform":[{"filter":"datum.g=='Swat-84'"},{"density":"PPP","bandwidth":22.2,"extent":[94,210],"groupby":["g"],"steps":150}],"layer":[{"mark":"area","encoding":{"color":{"field":"g"}}},{"mark":"line"}]}],"encoding":{"x":{"field":"value","type":"quantitative","title":null,"scale":{"domain":[88.2,215.8]},"axis":{"values":[105,120,135,150,165,180,195,210],"gridWidth":{"condition":{"test":"datum.value%30==0","value":1.3},"value":0.6}}},"y":{"field":"density","type":"quantitative","title":null,"stack":null,"scale":{"nice":false},"axis":{"tickCount":4}}}},
{"data":{"values":[{"g":"Corr","t":"Corr: 0.879***"},{"g":"NARC-1","t":"NARC-1: 0.909*"},{"g":"Swat-84","t":"Swat-84: 0.815."}]},"mark":"text","encoding":{"y":{"field":"g","axis":null},"text":{"field":"t"},"color":{"field":"g"}},"view":{"fill":"white","stroke":"#E3E3E3"}},
{"data":{"values":[{"g":"Corr","t":"Corr: 0.838**"},{"g":"NARC-1","t":"NARC-1: 0.915*"},{"g":"Swat-84","t":"Swat-84: 0.777"}]},"mark":"text","encoding":{"y":{"field":"g","axis":null},"text":{"field":"t"},"color":{"field":"g"}},"view":{"fill":"white","stroke":"#E3E3E3"}},
{"data":{"values":[{"g":"Corr","t":"Corr: 0.647*"},{"g":"NARC-1","t":"NARC-1: 0.665"},{"g":"Swat-84","t":"Swat-84: 0.584"}]},"mark":"text","encoding":{"y":{"field":"g","axis":null},"text":{"field":"t"},"color":{"field":"g"}},"view":{"fill":"white","stroke":"#E3E3E3"}},
{"data":{"values":[{"v":"PPP"}]},"mark":{"type":"text","fontSize":13,"angle":90},"encoding":{"text":{"field":"v"}},"width":16,"view":{"fill":"#DADADA"}},

{"mark":"circle","encoding":{"x":{"field":"Chl","type":"quantitative","title":null,"scale":{"domain":[17.52,35.83]},"axis":{"values":[20,22.5,25,27.5,30,32.5,35],"gridWidth":{"condition":{"test":"datum.value%5==0","value":1.3},"value":0.6}}},"y":{"field":"PWPP","type":"quantitative","title":null,"scale":{"domain":[52.73,124.67]},"axis":{"values":[60,70,80,90,100,110,120],"gridWidth":{"condition":{"test":"datum.value%20==0","value":1.3},"value":0.6},"labels":true,"ticks":true,"format":".6~g","labelOverlap":false,"labelFlush":false,"labelOpacity":{"condition":{"test":"datum.value%20==0","value":1},"value":0},"tickOpacity":{"condition":{"test":"datum.value%20==0","value":1},"value":0}}},"color":{"field":"g"}}},
{"mark":"circle","encoding":{"x":{"field":"Pn","type":"quantitative","title":null,"scale":{"domain":[20.15,38.96]},"axis":{"values":[22.5,25,27.5,30,32.5,35,37.5],"gridWidth":{"condition":{"test":"datum.value%5==0","value":1.3},"value":0.6}}},"y":{"field":"PWPP","type":"quantitative","title":null,"scale":{"domain":[52.73,124.67]},"axis":{"values":[60,70,80,90,100,110,120],"gridWidth":{"condition":{"test":"datum.value%20==0","value":1.3},"value":0.6}}},"color":{"field":"g"}}},
{"mark":"circle","encoding":{"x":{"field":"Tr","type":"quantitative","title":null,"scale":{"domain":[9.9,18.6]},"axis":{"values":[10,11,12,13,14,15,16,17,18],"gridWidth":{"condition":{"test":"datum.value%2==0","value":1.3},"value":0.6}}},"y":{"field":"PWPP","type":"quantitative","title":null,"scale":{"domain":[52.73,124.67]},"axis":{"values":[60,70,80,90,100,110,120],"gridWidth":{"condition":{"test":"datum.value%20==0","value":1.3},"value":0.6}}},"color":{"field":"g"}}},
{"mark":"circle","encoding":{"x":{"field":"MD","type":"quantitative","title":null,"scale":{"domain":[7.34,21.86]},"axis":{"values":[8,10,12,14,16,18,20],"gridWidth":{"condition":{"test":"datum.value%4==0","value":1.3},"value":0.6}}},"y":{"field":"PWPP","type":"quantitative","title":null,"scale":{"domain":[52.73,124.67]},"axis":{"values":[60,70,80,90,100,110,120],"gridWidth":{"condition":{"test":"datum.value%20==0","value":1.3},"value":0.6}}},"color":{"field":"g"}}},
{"mark":"circle","encoding":{"x":{"field":"Gs","type":"quantitative","title":null,"scale":{"domain":[741.8,900.2]},"axis":{"values":[750,775,800,825,850,875,900],"gridWidth":{"condition":{"test":"datum.value%50==0","value":1.3},"value":0.6}}},"y":{"field":"PWPP","type":"quantitative","title":null,"scale":{"domain":[52.73,124.67]},"axis":{"values":[60,70,80,90,100,110,120],"gridWidth":{"condition":{"test":"datum.value%20==0","value":1.3},"value":0.6}}},"color":{"field":"g"}}},
{"mark":"circle","encoding":{"x":{"field":"SOD","type":"quantitative","title":null,"scale":{"domain":[24.77,39.68]},"axis":{"values":[25,27.5,30,32.5,35,37.5],"gridWidth":{"condition":{"test":"datum.value%5==0","value":1.3},"value":0.6}}},"y":{"field":"PWPP","type":"quantitative","title":null,"scale":{"domain":[52.73,124.67]},"axis":{"values":[60,70,80,90,100,110,120],"gridWidth":{"condition":{"test":"datum.value%20==0","value":1.3},"value":0.6}}},"color":{"field":"g"}}},
{"mark":"circle","encoding":{"x":{"field":"Proline","type":"quantitative","title":null,"scale":{"domain":[20.89,36.51]},"axis":{"values":[22,24,26,28,30,32,34,36],"gridWidth":{"condition":{"test":"datum.value%4==0","value":1.3},"value":0.6}}},"y":{"field":"PWPP","type":"quantitative","title":null,"scale":{"domain":[52.73,124.67]},"axis":{"values":[60,70,80,90,100,110,120],"gridWidth":{"condition":{"test":"datum.value%20==0","value":1.3},"value":0.6}}},"color":{"field":"g"}}},
{"mark":"circle","encoding":{"x":{"field":"CAT","type":"quantitative","title":null,"scale":{"domain":[9.16,14.7]},"axis":{"values":[9.5,10,10.5,11,11.5,12,12.5,13,13.5,14,14.5],"gridWidth":{"condition":{"test":"datum.value%1==0","value":1.3},"value":0.6}}},"y":{"field":"PWPP","type":"quantitative","title":null,"scale":{"domain":[52.73,124.67]},"axis":{"values":[60,70,80,90,100,110,120],"gridWidth":{"condition":{"test":"datum.value%20==0","value":1.3},"value":0.6}}},"color":{"field":"g"}}},
{"mark":"circle","encoding":{"x":{"field":"POD","type":"quantitative","title":null,"scale":{"domain":[0.235,0.788]},"axis":{"values":[0.25,0.3,0.35,0.4,0.45,0.5,0.55,0.6,0.65,0.7,0.75],"gridWidth":{"condition":{"test":"round(datum.value*100)%10==0","value":1.3},"value":0.6}}},"y":{"field":"PWPP","type":"quantitative","title":null,"scale":{"domain":[52.73,124.67]},"axis":{"values":[60,70,80,90,100,110,120],"gridWidth":{"condition":{"test":"datum.value%20==0","value":1.3},"value":0.6}}},"color":{"field":"g"}}},
{"mark":"circle","encoding":{"x":{"field":"PPP","type":"quantitative","title":null,"scale":{"domain":[88.2,215.8]},"axis":{"values":[105,120,135,150,165,180,195,210],"gridWidth":{"condition":{"test":"datum.value%30==0","value":1.3},"value":0.6}}},"y":{"field":"PWPP","type":"quantitative","title":null,"scale":{"domain":[52.73,124.67]},"axis":{"values":[60,70,80,90,100,110,120],"gridWidth":{"condition":{"test":"datum.value%20==0","value":1.3},"value":0.6}}},"color":{"field":"g"}}},
{"layer":[{"transform":[{"filter":"datum.g=='NARC-1'"},{"density":"PWPP","bandwidth":5.84,"extent":[56,121.4],"groupby":["g"],"steps":150}],"layer":[{"mark":"area","encoding":{"color":{"field":"g"}}},{"mark":"line"}]},{"transform":[{"filter":"datum.g=='Swat-84'"},{"density":"PWPP","bandwidth":4.92,"extent":[56,121.4],"groupby":["g"],"steps":150}],"layer":[{"mark":"area","encoding":{"color":{"field":"g"}}},{"mark":"line"}]}],"encoding":{"x":{"field":"value","type":"quantitative","title":null,"scale":{"domain":[52.73,124.67]},"axis":{"values":[60,70,80,90,100,110,120],"gridWidth":{"condition":{"test":"datum.value%20==0","value":1.3},"value":0.6}}},"y":{"field":"density","type":"quantitative","title":null,"stack":null,"scale":{"nice":false},"axis":{"tickCount":4}}}},
{"data":{"values":[{"g":"Corr","t":"Corr: 0.942***"},{"g":"NARC-1","t":"NARC-1: 0.989**"},{"g":"Swat-84","t":"Swat-84: 0.984**"}]},"mark":"text","encoding":{"y":{"field":"g","axis":null},"text":{"field":"t"},"color":{"field":"g"}},"view":{"fill":"white","stroke":"#E3E3E3"}},
{"data":{"values":[{"g":"Corr","t":"Corr: 0.904***"},{"g":"NARC-1","t":"NARC-1: 0.908*"},{"g":"Swat-84","t":"Swat-84: 0.922*"}]},"mark":"text","encoding":{"y":{"field":"g","axis":null},"text":{"field":"t"},"color":{"field":"g"}},"view":{"fill":"white","stroke":"#E3E3E3"}},
{"data":{"values":[{"v":"PWPP"}]},"mark":{"type":"text","fontSize":13,"angle":90},"encoding":{"text":{"field":"v"}},"width":16,"view":{"fill":"#DADADA"}},

{"mark":"circle","encoding":{"x":{"field":"Chl","type":"quantitative","title":null,"scale":{"domain":[17.52,35.83]},"axis":{"values":[20,22.5,25,27.5,30,32.5,35],"gridWidth":{"condition":{"test":"datum.value%5==0","value":1.3},"value":0.6}}},"y":{"field":"SPP","type":"quantitative","title":null,"scale":{"domain":[199.9,472.4]},"axis":{"values":[200,250,300,350,400,450],"gridWidth":{"condition":{"test":"datum.value%100==0","value":1.3},"value":0.6},"labels":true,"ticks":true,"format":".6~g","labelOverlap":false,"labelFlush":false,"labelOpacity":{"condition":{"test":"datum.value%100==0","value":1},"value":0},"tickOpacity":{"condition":{"test":"datum.value%100==0","value":1},"value":0}}},"color":{"field":"g"}}},
{"mark":"circle","encoding":{"x":{"field":"Pn","type":"quantitative","title":null,"scale":{"domain":[20.15,38.96]},"axis":{"values":[22.5,25,27.5,30,32.5,35,37.5],"gridWidth":{"condition":{"test":"datum.value%5==0","value":1.3},"value":0.6}}},"y":{"field":"SPP","type":"quantitative","title":null,"scale":{"domain":[199.9,472.4]},"axis":{"values":[200,250,300,350,400,450],"gridWidth":{"condition":{"test":"datum.value%100==0","value":1.3},"value":0.6}}},"color":{"field":"g"}}},
{"mark":"circle","encoding":{"x":{"field":"Tr","type":"quantitative","title":null,"scale":{"domain":[9.9,18.6]},"axis":{"values":[10,11,12,13,14,15,16,17,18],"gridWidth":{"condition":{"test":"datum.value%2==0","value":1.3},"value":0.6}}},"y":{"field":"SPP","type":"quantitative","title":null,"scale":{"domain":[199.9,472.4]},"axis":{"values":[200,250,300,350,400,450],"gridWidth":{"condition":{"test":"datum.value%100==0","value":1.3},"value":0.6}}},"color":{"field":"g"}}},
{"mark":"circle","encoding":{"x":{"field":"MD","type":"quantitative","title":null,"scale":{"domain":[7.34,21.86]},"axis":{"values":[8,10,12,14,16,18,20],"gridWidth":{"condition":{"test":"datum.value%4==0","value":1.3},"value":0.6}}},"y":{"field":"SPP","type":"quantitative","title":null,"scale":{"domain":[199.9,472.4]},"axis":{"values":[200,250,300,350,400,450],"gridWidth":{"condition":{"test":"datum.value%100==0","value":1.3},"value":0.6}}},"color":{"field":"g"}}},
{"mark":"circle","encoding":{"x":{"field":"Gs","type":"quantitative","title":null,"scale":{"domain":[741.8,900.2]},"axis":{"values":[750,775,800,825,850,875,900],"gridWidth":{"condition":{"test":"datum.value%50==0","value":1.3},"value":0.6}}},"y":{"field":"SPP","type":"quantitative","title":null,"scale":{"domain":[199.9,472.4]},"axis":{"values":[200,250,300,350,400,450],"gridWidth":{"condition":{"test":"datum.value%100==0","value":1.3},"value":0.6}}},"color":{"field":"g"}}},
{"mark":"circle","encoding":{"x":{"field":"SOD","type":"quantitative","title":null,"scale":{"domain":[24.77,39.68]},"axis":{"values":[25,27.5,30,32.5,35,37.5],"gridWidth":{"condition":{"test":"datum.value%5==0","value":1.3},"value":0.6}}},"y":{"field":"SPP","type":"quantitative","title":null,"scale":{"domain":[199.9,472.4]},"axis":{"values":[200,250,300,350,400,450],"gridWidth":{"condition":{"test":"datum.value%100==0","value":1.3},"value":0.6}}},"color":{"field":"g"}}},
{"mark":"circle","encoding":{"x":{"field":"Proline","type":"quantitative","title":null,"scale":{"domain":[20.89,36.51]},"axis":{"values":[22,24,26,28,30,32,34,36],"gridWidth":{"condition":{"test":"datum.value%4==0","value":1.3},"value":0.6}}},"y":{"field":"SPP","type":"quantitative","title":null,"scale":{"domain":[199.9,472.4]},"axis":{"values":[200,250,300,350,400,450],"gridWidth":{"condition":{"test":"datum.value%100==0","value":1.3},"value":0.6}}},"color":{"field":"g"}}},
{"mark":"circle","encoding":{"x":{"field":"CAT","type":"quantitative","title":null,"scale":{"domain":[9.16,14.7]},"axis":{"values":[9.5,10,10.5,11,11.5,12,12.5,13,13.5,14,14.5],"gridWidth":{"condition":{"test":"datum.value%1==0","value":1.3},"value":0.6}}},"y":{"field":"SPP","type":"quantitative","title":null,"scale":{"domain":[199.9,472.4]},"axis":{"values":[200,250,300,350,400,450],"gridWidth":{"condition":{"test":"datum.value%100==0","value":1.3},"value":0.6}}},"color":{"field":"g"}}},
{"mark":"circle","encoding":{"x":{"field":"POD","type":"quantitative","title":null,"scale":{"domain":[0.235,0.788]},"axis":{"values":[0.25,0.3,0.35,0.4,0.45,0.5,0.55,0.6,0.65,0.7,0.75],"gridWidth":{"condition":{"test":"round(datum.value*100)%10==0","value":1.3},"value":0.6}}},"y":{"field":"SPP","type":"quantitative","title":null,"scale":{"domain":[199.9,472.4]},"axis":{"values":[200,250,300,350,400,450],"gridWidth":{"condition":{"test":"datum.value%100==0","value":1.3},"value":0.6}}},"color":{"field":"g"}}},
{"mark":"circle","encoding":{"x":{"field":"PPP","type":"quantitative","title":null,"scale":{"domain":[88.2,215.8]},"axis":{"values":[105,120,135,150,165,180,195,210],"gridWidth":{"condition":{"test":"datum.value%30==0","value":1.3},"value":0.6}}},"y":{"field":"SPP","type":"quantitative","title":null,"scale":{"domain":[199.9,472.4]},"axis":{"values":[200,250,300,350,400,450],"gridWidth":{"condition":{"test":"datum.value%100==0","value":1.3},"value":0.6}}},"color":{"field":"g"}}},
{"mark":"circle","encoding":{"x":{"field":"PWPP","type":"quantitative","title":null,"scale":{"domain":[52.73,124.67]},"axis":{"values":[60,70,80,90,100,110,120],"gridWidth":{"condition":{"test":"datum.value%20==0","value":1.3},"value":0.6}}},"y":{"field":"SPP","type":"quantitative","title":null,"scale":{"domain":[199.9,472.4]},"axis":{"values":[200,250,300,350,400,450],"gridWidth":{"condition":{"test":"datum.value%100==0","value":1.3},"value":0.6}}},"color":{"field":"g"}}},
{"layer":[{"transform":[{"filter":"datum.g=='NARC-1'"},{"density":"SPP","bandwidth":14.7,"extent":[212.3,460],"groupby":["g"],"steps":150}],"layer":[{"mark":"area","encoding":{"color":{"field":"g"}}},{"mark":"line"}]},{"transform":[{"filter":"datum.g=='Swat-84'"},{"density":"SPP","bandwidth":11.98,"extent":[212.3,460],"groupby":["g"],"steps":150}],"layer":[{"mark":"area","encoding":{"color":{"field":"g"}}},{"mark":"line"}]}],"encoding":{"x":{"field":"value","type":"quantitative","title":null,"scale":{"domain":[199.9,472.4]},"axis":{"values":[200,250,300,350,400,450],"gridWidth":{"condition":{"test":"datum.value%100==0","value":1.3},"value":0.6}}},"y":{"field":"density","type":"quantitative","title":null,"stack":null,"scale":{"nice":false},"axis":{"tickCount":4}}}},
{"data":{"values":[{"g":"Corr","t":"Corr: 0.824**"},{"g":"NARC-1","t":"NARC-1: 0.860."},{"g":"Swat-84","t":"Swat-84: 0.939*"}]},"mark":"text","encoding":{"y":{"field":"g","axis":null},"text":{"field":"t"},"color":{"field":"g"}},"view":{"fill":"white","stroke":"#E3E3E3"}},
{"data":{"values":[{"v":"SPP"}]},"mark":{"type":"text","fontSize":13,"angle":90},"encoding":{"text":{"field":"v"}},"width":16,"view":{"fill":"#DADADA"}},

{"mark":"circle","encoding":{"x":{"field":"Chl","type":"quantitative","title":null,"scale":{"domain":[17.52,35.83]},"axis":{"values":[20,22.5,25,27.5,30,32.5,35],"gridWidth":{"condition":{"test":"datum.value%5==0","value":1.3},"value":0.6},"labels":true,"ticks":true,"format":".6~g","labelOverlap":false,"labelFlush":false,"labelOpacity":{"condition":{"test":"datum.value%5==0","value":1},"value":0},"tickOpacity":{"condition":{"test":"datum.value%5==0","value":1},"value":0}}},"y":{"field":"SYPP","type":"quantitative","title":null,"scale":{"domain":[26.53,83.18]},"axis":{"values":[30,35,40,45,50,55,60,65,70,75,80],"gridWidth":{"condition":{"test":"datum.value%10==0","value":1.3},"value":0.6},"labels":true,"ticks":true,"format":".6~g","labelOverlap":false,"labelFlush":false,"labelOpacity":{"condition":{"test":"datum.value%10==0","value":1},"value":0},"tickOpacity":{"condition":{"test":"datum.value%10==0","value":1},"value":0}}},"color":{"field":"g"}}},
{"mark":"circle","encoding":{"x":{"field":"Pn","type":"quantitative","title":null,"scale":{"domain":[20.15,38.96]},"axis":{"values":[22.5,25,27.5,30,32.5,35,37.5],"gridWidth":{"condition":{"test":"datum.value%5==0","value":1.3},"value":0.6},"labels":true,"ticks":true,"format":".6~g","labelOverlap":false,"labelFlush":false,"labelOpacity":{"condition":{"test":"datum.value%5==0","value":1},"value":0},"tickOpacity":{"condition":{"test":"datum.value%5==0","value":1},"value":0}}},"y":{"field":"SYPP","type":"quantitative","title":null,"scale":{"domain":[26.53,83.18]},"axis":{"values":[30,35,40,45,50,55,60,65,70,75,80],"gridWidth":{"condition":{"test":"datum.value%10==0","value":1.3},"value":0.6}}},"color":{"field":"g"}}},
{"mark":"circle","encoding":{"x":{"field":"Tr","type":"quantitative","title":null,"scale":{"domain":[9.9,18.6]},"axis":{"values":[10,11,12,13,14,15,16,17,18],"gridWidth":{"condition":{"test":"datum.value%2==0","value":1.3},"value":0.6},"labels":true,"ticks":true,"format":".6~g","labelOverlap":false,"labelFlush":false,"labelOpacity":{"condition":{"test":"datum.value%2==0","value":1},"value":0},"tickOpacity":{"condition":{"test":"datum.value%2==0","value":1},"value":0}}},"y":{"field":"SYPP","type":"quantitative","title":null,"scale":{"domain":[26.53,83.18]},"axis":{"values":[30,35,40,45,50,55,60,65,70,75,80],"gridWidth":{"condition":{"test":"datum.value%10==0","value":1.3},"value":0.6}}},"color":{"field":"g"}}},
{"mark":"circle","encoding":{"x":{"field":"MD","type":"quantitative","title":null,"scale":{"domain":[7.34,21.86]},"axis":{"values":[8,10,12,14,16,18,20],"gridWidth":{"condition":{"test":"datum.value%4==0","value":1.3},"value":0.6},"labels":true,"ticks":true,"format":".6~g","labelOverlap":false,"labelFlush":false,"labelOpacity":{"condition":{"test":"datum.value%4==0","value":1},"value":0},"tickOpacity":{"condition":{"test":"datum.value%4==0","value":1},"value":0}}},"y":{"field":"SYPP","type":"quantitative","title":null,"scale":{"domain":[26.53,83.18]},"axis":{"values":[30,35,40,45,50,55,60,65,70,75,80],"gridWidth":{"condition":{"test":"datum.value%10==0","value":1.3},"value":0.6}}},"color":{"field":"g"}}},
{"mark":"circle","encoding":{"x":{"field":"Gs","type":"quantitative","title":null,"scale":{"domain":[741.8,900.2]},"axis":{"values":[750,775,800,825,850,875,900],"gridWidth":{"condition":{"test":"datum.value%50==0","value":1.3},"value":0.6},"labels":true,"ticks":true,"format":".6~g","labelOverlap":false,"labelFlush":false,"labelOpacity":{"condition":{"test":"datum.value%50==0","value":1},"value":0},"tickOpacity":{"condition":{"test":"datum.value%50==0","value":1},"value":0}}},"y":{"field":"SYPP","type":"quantitative","title":null,"scale":{"domain":[26.53,83.18]},"axis":{"values":[30,35,40,45,50,55,60,65,70,75,80],"gridWidth":{"condition":{"test":"datum.value%10==0","value":1.3},"value":0.6}}},"color":{"field":"g"}}},
{"mark":"circle","encoding":{"x":{"field":"SOD","type":"quantitative","title":null,"scale":{"domain":[24.77,39.68]},"axis":{"values":[25,27.5,30,32.5,35,37.5],"gridWidth":{"condition":{"test":"datum.value%5==0","value":1.3},"value":0.6},"labels":true,"ticks":true,"format":".6~g","labelOverlap":false,"labelFlush":false,"labelOpacity":{"condition":{"test":"datum.value%5==0","value":1},"value":0},"tickOpacity":{"condition":{"test":"datum.value%5==0","value":1},"value":0}}},"y":{"field":"SYPP","type":"quantitative","title":null,"scale":{"domain":[26.53,83.18]},"axis":{"values":[30,35,40,45,50,55,60,65,70,75,80],"gridWidth":{"condition":{"test":"datum.value%10==0","value":1.3},"value":0.6}}},"color":{"field":"g"}}},
{"mark":"circle","encoding":{"x":{"field":"Proline","type":"quantitative","title":null,"scale":{"domain":[20.89,36.51]},"axis":{"values":[22,24,26,28,30,32,34,36],"gridWidth":{"condition":{"test":"datum.value%4==0","value":1.3},"value":0.6},"labels":true,"ticks":true,"format":".6~g","labelOverlap":false,"labelFlush":false,"labelOpacity":{"condition":{"test":"datum.value%4==0","value":1},"value":0},"tickOpacity":{"condition":{"test":"datum.value%4==0","value":1},"value":0}}},"y":{"field":"SYPP","type":"quantitative","title":null,"scale":{"domain":[26.53,83.18]},"axis":{"values":[30,35,40,45,50,55,60,65,70,75,80],"gridWidth":{"condition":{"test":"datum.value%10==0","value":1.3},"value":0.6}}},"color":{"field":"g"}}},
{"mark":"circle","encoding":{"x":{"field":"CAT","type":"quantitative","title":null,"scale":{"domain":[9.16,14.7]},"axis":{"values":[9.5,10,10.5,11,11.5,12,12.5,13,13.5,14,14.5],"gridWidth":{"condition":{"test":"datum.value%1==0","value":1.3},"value":0.6},"labels":true,"ticks":true,"format":".6~g","labelOverlap":false,"labelFlush":false,"labelOpacity":{"condition":{"test":"datum.value%1==0","value":1},"value":0},"tickOpacity":{"condition":{"test":"datum.value%1==0","value":1},"value":0}}},"y":{"field":"SYPP","type":"quantitative","title":null,"scale":{"domain":[26.53,83.18]},"axis":{"values":[30,35,40,45,50,55,60,65,70,75,80],"gridWidth":{"condition":{"test":"datum.value%10==0","value":1.3},"value":0.6}}},"color":{"field":"g"}}},
{"mark":"circle","encoding":{"x":{"field":"POD","type":"quantitative","title":null,"scale":{"domain":[0.235,0.788]},"axis":{"values":[0.25,0.3,0.35,0.4,0.45,0.5,0.55,0.6,0.65,0.7,0.75],"gridWidth":{"condition":{"test":"round(datum.value*100)%10==0","value":1.3},"value":0.6},"labels":true,"ticks":true,"format":".6~g","labelOverlap":false,"labelFlush":false,"labelOpacity":{"condition":{"test":"round(datum.value*100)%10==0","value":1},"value":0},"tickOpacity":{"condition":{"test":"round(datum.value*100)%10==0","value":1},"value":0}}},"y":{"field":"SYPP","type":"quantitative","title":null,"scale":{"domain":[26.53,83.18]},"axis":{"values":[30,35,40,45,50,55,60,65,70,75,80],"gridWidth":{"condition":{"test":"datum.value%10==0","value":1.3},"value":0.6}}},"color":{"field":"g"}}},
{"mark":"circle","encoding":{"x":{"field":"PPP","type":"quantitative","title":null,"scale":{"domain":[88.2,215.8]},"axis":{"values":[105,120,135,150,165,180,195,210],"gridWidth":{"condition":{"test":"datum.value%30==0","value":1.3},"value":0.6},"labels":true,"ticks":true,"format":".6~g","labelOverlap":false,"labelFlush":false,"labelOpacity":{"condition":{"test":"datum.value%30==0","value":1},"value":0},"tickOpacity":{"condition":{"test":"datum.value%30==0","value":1},"value":0}}},"y":{"field":"SYPP","type":"quantitative","title":null,"scale":{"domain":[26.53,83.18]},"axis":{"values":[30,35,40,45,50,55,60,65,70,75,80],"gridWidth":{"condition":{"test":"datum.value%10==0","value":1.3},"value":0.6}}},"color":{"field":"g"}}},
{"mark":"circle","encoding":{"x":{"field":"PWPP","type":"quantitative","title":null,"scale":{"domain":[52.73,124.67]},"axis":{"values":[60,70,80,90,100,110,120],"gridWidth":{"condition":{"test":"datum.value%20==0","value":1.3},"value":0.6},"labels":true,"ticks":true,"format":".6~g","labelOverlap":false,"labelFlush":false,"labelOpacity":{"condition":{"test":"datum.value%20==0","value":1},"value":0},"tickOpacity":{"condition":{"test":"datum.value%20==0","value":1},"value":0}}},"y":{"field":"SYPP","type":"quantitative","title":null,"scale":{"domain":[26.53,83.18]},"axis":{"values":[30,35,40,45,50,55,60,65,70,75,80],"gridWidth":{"condition":{"test":"datum.value%10==0","value":1.3},"value":0.6}}},"color":{"field":"g"}}},
{"mark":"circle","encoding":{"x":{"field":"SPP","type":"quantitative","title":null,"scale":{"domain":[199.9,472.4]},"axis":{"values":[200,250,300,350,400,450],"gridWidth":{"condition":{"test":"datum.value%100==0","value":1.3},"value":0.6},"labels":true,"ticks":true,"format":".6~g","labelOverlap":false,"labelFlush":false,"labelOpacity":{"condition":{"test":"datum.value%100==0","value":1},"value":0},"tickOpacity":{"condition":{"test":"datum.value%100==0","value":1},"value":0}}},"y":{"field":"SYPP","type":"quantitative","title":null,"scale":{"domain":[26.53,83.18]},"axis":{"values":[30,35,40,45,50,55,60,65,70,75,80],"gridWidth":{"condition":{"test":"datum.value%10==0","value":1.3},"value":0.6}}},"color":{"field":"g"}}},
{"layer":[{"transform":[{"filter":"datum.g=='NARC-1'"},{"density":"SYPP","bandwidth":12.87,"extent":[29.1,80.6],"groupby":["g"],"steps":150}],"layer":[{"mark":"area","encoding":{"color":{"field":"g"}}},{"mark":"line"}]},{"transform":[{"filter":"datum.g=='Swat-84'"},{"density":"SYPP","bandwidth":11.53,"extent":[29.1,80.6],"groupby":["g"],"steps":150}],"layer":[{"mark":"area","encoding":{"color":{"field":"g"}}},{"mark":"line"}]}],"encoding":{"x":{"field":"value","type":"quantitative","title":null,"scale":{"domain":[26.53,83.18]},"axis":{"values":[30,35,40,45,50,55,60,65,70,75,80],"gridWidth":{"condition":{"test":"datum.value%10==0","value":1.3},"value":0.6},"labels":true,"ticks":true,"format":".6~g","labelOverlap":false,"labelFlush":false,"labelOpacity":{"condition":{"test":"datum.value%10==0","value":1},"value":0},"tickOpacity":{"condition":{"test":"datum.value%10==0","value":1},"value":0}}},"y":{"field":"density","type":"quantitative","title":null,"stack":null,"scale":{"nice":false},"axis":{"tickCount":4}}}},
{"data":{"values":[{"v":"SYPP"}]},"mark":{"type":"text","fontSize":13,"angle":90},"encoding":{"text":{"field":"v"}},"width":16,"view":{"fill":"#DADADA"}}
]}
